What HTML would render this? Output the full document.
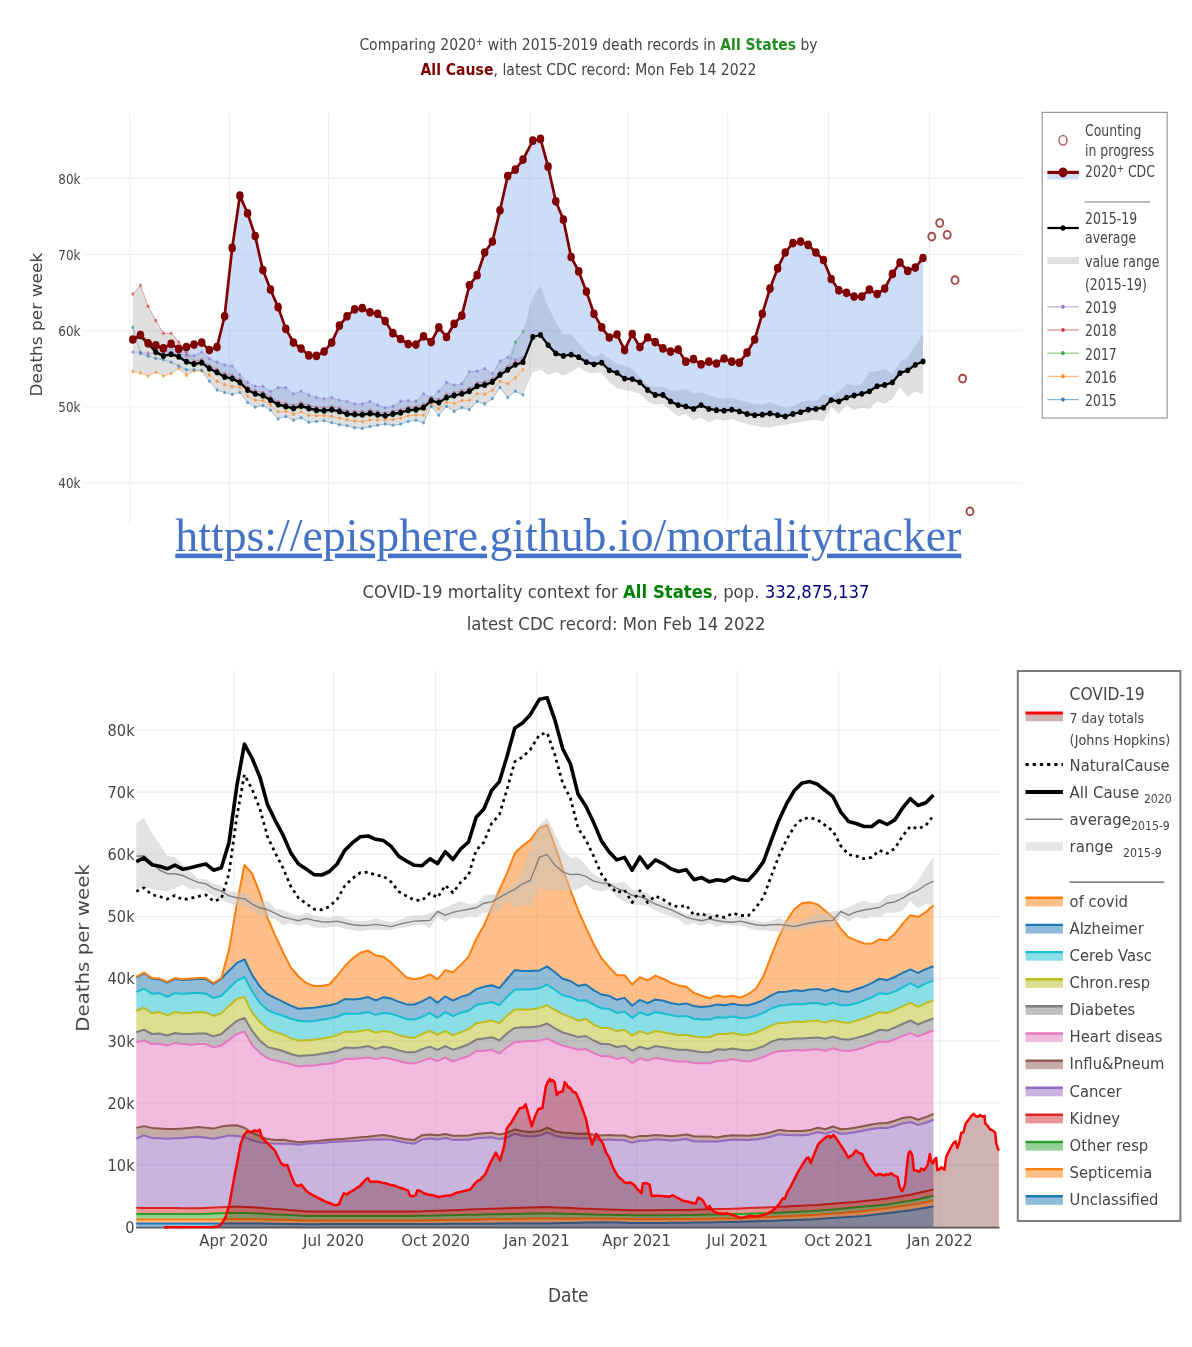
<!DOCTYPE html>
<html lang="en"><head><meta charset="utf-8"><title>Mortality tracker</title>
<style>html,body{margin:0;padding:0;background:#fff}body{width:1192px;height:1347px;overflow:hidden}</style>
</head><body>
<svg width="1192" height="1347" viewBox="0 0 1192 1347" style="display:block;font-family:'DejaVu Sans', 'Liberation Sans', sans-serif">
<rect width="1192" height="1347" fill="#fff"/>
<defs><filter id="b1" x="-2%" y="-2%" width="104%" height="104%"><feGaussianBlur stdDeviation="0.65"/></filter><filter id="b2" x="-2%" y="-2%" width="104%" height="104%"><feGaussianBlur stdDeviation="0.45"/></filter></defs>
<g filter="url(#b1)">
<g stroke="#eeeeee" stroke-width="1" fill="none">
<path d="M129.8 112.5 V525"/>
<path d="M229.4 112.5 V525"/>
<path d="M328.6 112.5 V525"/>
<path d="M429.3 112.5 V525"/>
<path d="M529.9 112.5 V525"/>
<path d="M628.2 112.5 V525"/>
<path d="M727.8 112.5 V525"/>
<path d="M828.4 112.5 V525"/>
<path d="M929.6 112.5 V525"/>
<path d="M84 482.9 H1022"/>
<path d="M84 406.8 H1022"/>
<path d="M84 330.7 H1022"/>
<path d="M84 254.6 H1022"/>
<path d="M84 178.5 H1022"/>
</g>
<path d="M132.8 294.1 L140.5 285.3 L148.1 306.2 L155.8 320.6 L163.4 333.2 L171.1 333.2 L178.7 342.1 L186.4 350.9 L194 354.7 L201.7 352.1 L209.3 358.5 L217 362.2 L224.6 364.8 L232.2 366 L239.9 374.9 L247.6 382.4 L255.2 386.2 L262.9 386.2 L270.5 391.3 L278.1 387.5 L285.8 387.5 L293.5 393.8 L301.1 391.3 L308.8 395 L316.4 397.6 L324.1 398.8 L331.7 397.6 L339.4 400.1 L347 401.4 L354.7 403.9 L362.3 403.9 L370 401.4 L377.6 405.1 L385.2 407.7 L392.9 406.4 L400.6 401.4 L408.2 400.6 L415.9 401.4 L423.5 393.8 L431.2 397.6 L438.8 391.3 L446.5 382.4 L454.1 385 L461.8 383.7 L469.4 371.8 L477.1 371.1 L484.7 368.5 L492.4 373.6 L500 361 L507.7 357.2 L515.3 342.1 L523 331.5 L532.8 296.6 L540.5 286 L548.1 306.7 L555.8 321.9 L563.4 334.5 L571.1 334 L578.7 343.3 L586.4 352.1 L594 357.2 L601.7 352.7 L609.3 358.5 L617 363.5 L624.6 366 L632.2 368.5 L639.9 377.4 L647.6 385 L655.2 387 L662.9 386.2 L670.5 390 L678.2 390.5 L685.8 388.7 L693.5 393.8 L701.1 392 L708.8 395 L716.4 397.6 L724.1 398.8 L731.7 397.6 L739.4 400.1 L747 402.1 L754.7 403.9 L762.3 404.4 L770 402.1 L777.6 405.1 L785.2 407.7 L792.9 406.4 L800.6 402.1 L808.2 400.6 L815.9 401.4 L823.5 393.8 L831.2 397.6 L838.8 391.3 L846.5 383.7 L854.1 385.5 L861.8 383.7 L869.4 372.3 L877.1 371.1 L884.7 369.3 L892.4 373.6 L900 361.7 L907.7 357.2 L915.3 345.8 L923 333.2 L923 394.5 L915.3 391.3 L907.7 397.1 L900 387.5 L892.4 398.8 L884.7 403.9 L877.1 401.4 L869.4 408.9 L861.8 407.7 L854.1 410.2 L846.5 405.1 L838.8 414 L831.2 406.4 L823.5 421.5 L815.9 419.8 L808.2 420.8 L800.6 422.3 L792.9 423.3 L785.2 424.8 L777.6 425.8 L770 427.3 L762.3 427.3 L754.7 425.3 L747 424.1 L739.4 421.5 L731.7 419 L724.1 420.8 L716.4 419 L708.8 422.3 L701.1 417.8 L693.5 420.3 L685.8 414 L678.2 416.5 L670.5 410.2 L662.9 403.9 L655.2 405.1 L647.6 401.4 L639.9 393.8 L632.2 391.3 L624.6 390 L617 388 L609.3 382.4 L601.7 372.3 L594 373.6 L586.4 372.3 L578.7 367.3 L571.1 372.3 L563.4 375.4 L555.8 372.3 L548.1 374.9 L540.5 369.8 L532.8 372.3 L523 395 L515.3 391.3 L507.7 397.6 L500 387.5 L492.4 398.8 L484.7 403.9 L477.1 401.4 L469.4 409.7 L461.8 407.7 L454.1 411.4 L446.5 406.4 L438.8 415.2 L431.2 406.4 L423.5 422.8 L415.9 420.3 L408.2 421.5 L400.6 424.1 L392.9 425.3 L385.2 424.1 L377.6 425.3 L370 426.6 L362.3 428.4 L354.7 427.8 L347 425.8 L339.4 424.8 L331.7 422.8 L324.1 420.8 L316.4 421.5 L308.8 422.3 L301.1 417.8 L293.5 420.3 L285.8 416.5 L278.1 419 L270.5 410.2 L262.9 405.6 L255.2 407.2 L247.6 402.6 L239.9 392.5 L232.2 394.5 L224.6 392.5 L217 390 L209.3 381.2 L201.7 371.1 L194 371.1 L186.4 375.4 L178.7 368.5 L171.1 373.6 L163.4 376.1 L155.8 372.3 L148.1 376.1 L140.5 373.1 L132.8 371.6 Z" fill="#000" fill-opacity="0.125" stroke="none"/>
<path d="M132.8 352.1 L140.5 352.1 L148.1 353.4 L155.8 353.4 L163.4 355.2 L171.1 354.7 L178.7 353.4 L186.4 355.9 L194 355.9 L201.7 352.1 L209.3 358.5 L217 362.2 L224.6 364.8 L232.2 366 L239.9 374.9 L247.6 382.4 L255.2 386.2 L262.9 386.2 L270.5 391.3 L278.1 387.5 L285.8 387.5 L293.5 393.8 L301.1 391.3 L308.8 395 L316.4 397.6 L324.1 398.8 L331.7 397.6 L339.4 400.1 L347 401.4 L354.7 403.9 L362.3 403.9 L370 401.4 L377.6 405.1 L385.2 407.7 L392.9 406.4 L400.6 401.4 L408.2 400.6 L415.9 401.4 L423.5 393.8 L431.2 397.6 L438.8 391.3 L446.5 382.4 L454.1 385 L461.8 383.7 L469.4 371.8 L477.1 371.1 L484.7 368.5 L492.4 373.6 L500 361 L507.7 357.2 L515.3 359.7 L523 357.2" fill="none" stroke="#9467bd" stroke-width="1" opacity="0.4"/>
<g fill="#9467bd" opacity="0.6"><ellipse cx="132.8" cy="352.1" rx="1.5" ry="1.8"/><ellipse cx="140.5" cy="352.1" rx="1.5" ry="1.8"/><ellipse cx="148.1" cy="353.4" rx="1.5" ry="1.8"/><ellipse cx="155.8" cy="353.4" rx="1.5" ry="1.8"/><ellipse cx="163.4" cy="355.2" rx="1.5" ry="1.8"/><ellipse cx="171.1" cy="354.7" rx="1.5" ry="1.8"/><ellipse cx="178.7" cy="353.4" rx="1.5" ry="1.8"/><ellipse cx="186.4" cy="355.9" rx="1.5" ry="1.8"/><ellipse cx="194" cy="355.9" rx="1.5" ry="1.8"/><ellipse cx="201.7" cy="352.1" rx="1.5" ry="1.8"/><ellipse cx="209.3" cy="358.5" rx="1.5" ry="1.8"/><ellipse cx="217" cy="362.2" rx="1.5" ry="1.8"/><ellipse cx="224.6" cy="364.8" rx="1.5" ry="1.8"/><ellipse cx="232.2" cy="366" rx="1.5" ry="1.8"/><ellipse cx="239.9" cy="374.9" rx="1.5" ry="1.8"/><ellipse cx="247.6" cy="382.4" rx="1.5" ry="1.8"/><ellipse cx="255.2" cy="386.2" rx="1.5" ry="1.8"/><ellipse cx="262.9" cy="386.2" rx="1.5" ry="1.8"/><ellipse cx="270.5" cy="391.3" rx="1.5" ry="1.8"/><ellipse cx="278.1" cy="387.5" rx="1.5" ry="1.8"/><ellipse cx="285.8" cy="387.5" rx="1.5" ry="1.8"/><ellipse cx="293.5" cy="393.8" rx="1.5" ry="1.8"/><ellipse cx="301.1" cy="391.3" rx="1.5" ry="1.8"/><ellipse cx="308.8" cy="395" rx="1.5" ry="1.8"/><ellipse cx="316.4" cy="397.6" rx="1.5" ry="1.8"/><ellipse cx="324.1" cy="398.8" rx="1.5" ry="1.8"/><ellipse cx="331.7" cy="397.6" rx="1.5" ry="1.8"/><ellipse cx="339.4" cy="400.1" rx="1.5" ry="1.8"/><ellipse cx="347" cy="401.4" rx="1.5" ry="1.8"/><ellipse cx="354.7" cy="403.9" rx="1.5" ry="1.8"/><ellipse cx="362.3" cy="403.9" rx="1.5" ry="1.8"/><ellipse cx="370" cy="401.4" rx="1.5" ry="1.8"/><ellipse cx="377.6" cy="405.1" rx="1.5" ry="1.8"/><ellipse cx="385.2" cy="407.7" rx="1.5" ry="1.8"/><ellipse cx="392.9" cy="406.4" rx="1.5" ry="1.8"/><ellipse cx="400.6" cy="401.4" rx="1.5" ry="1.8"/><ellipse cx="408.2" cy="400.6" rx="1.5" ry="1.8"/><ellipse cx="415.9" cy="401.4" rx="1.5" ry="1.8"/><ellipse cx="423.5" cy="393.8" rx="1.5" ry="1.8"/><ellipse cx="431.2" cy="397.6" rx="1.5" ry="1.8"/><ellipse cx="438.8" cy="391.3" rx="1.5" ry="1.8"/><ellipse cx="446.5" cy="382.4" rx="1.5" ry="1.8"/><ellipse cx="454.1" cy="385" rx="1.5" ry="1.8"/><ellipse cx="461.8" cy="383.7" rx="1.5" ry="1.8"/><ellipse cx="469.4" cy="371.8" rx="1.5" ry="1.8"/><ellipse cx="477.1" cy="371.1" rx="1.5" ry="1.8"/><ellipse cx="484.7" cy="368.5" rx="1.5" ry="1.8"/><ellipse cx="492.4" cy="373.6" rx="1.5" ry="1.8"/><ellipse cx="500" cy="361" rx="1.5" ry="1.8"/><ellipse cx="507.7" cy="357.2" rx="1.5" ry="1.8"/><ellipse cx="515.3" cy="359.7" rx="1.5" ry="1.8"/><ellipse cx="523" cy="357.2" rx="1.5" ry="1.8"/></g>
<path d="M132.8 294.1 L140.5 285.3 L148.1 306.2 L155.8 320.6 L163.4 333.2 L171.1 333.2 L178.7 342.1 L186.4 353.4 L194 361 L201.7 359.7 L209.3 365.5 L217 369.3 L224.6 373.8 L232.2 375.6 L239.9 379.4 L247.6 387 L255.2 390.8 L262.9 392.5 L270.5 397.1 L278.1 401.6 L285.8 403.4 L293.5 405.4 L301.1 402.9 L308.8 405.4 L316.4 407.2 L324.1 407.7 L331.7 406.7 L339.4 408.4 L347 410.9 L354.7 411.4 L362.3 411.7 L370 410.4 L377.6 411.7 L385.2 412.7 L392.9 410.9 L400.6 409.7 L408.2 407.2 L415.9 406.7 L423.5 404.6 L431.2 397.6 L438.8 399.6 L446.5 394.5 L454.1 392.5 L461.8 390.8 L469.4 388.2 L477.1 383.2 L484.7 381.9 L492.4 378.9 L500 371.8 L507.7 366.8 L515.3 361.7 L523 359.2" fill="none" stroke="#d62728" stroke-width="1" opacity="0.4"/>
<g fill="#d62728" opacity="0.6"><ellipse cx="132.8" cy="294.1" rx="1.5" ry="1.8"/><ellipse cx="140.5" cy="285.3" rx="1.5" ry="1.8"/><ellipse cx="148.1" cy="306.2" rx="1.5" ry="1.8"/><ellipse cx="155.8" cy="320.6" rx="1.5" ry="1.8"/><ellipse cx="163.4" cy="333.2" rx="1.5" ry="1.8"/><ellipse cx="171.1" cy="333.2" rx="1.5" ry="1.8"/><ellipse cx="178.7" cy="342.1" rx="1.5" ry="1.8"/><ellipse cx="186.4" cy="353.4" rx="1.5" ry="1.8"/><ellipse cx="194" cy="361" rx="1.5" ry="1.8"/><ellipse cx="201.7" cy="359.7" rx="1.5" ry="1.8"/><ellipse cx="209.3" cy="365.5" rx="1.5" ry="1.8"/><ellipse cx="217" cy="369.3" rx="1.5" ry="1.8"/><ellipse cx="224.6" cy="373.8" rx="1.5" ry="1.8"/><ellipse cx="232.2" cy="375.6" rx="1.5" ry="1.8"/><ellipse cx="239.9" cy="379.4" rx="1.5" ry="1.8"/><ellipse cx="247.6" cy="387" rx="1.5" ry="1.8"/><ellipse cx="255.2" cy="390.8" rx="1.5" ry="1.8"/><ellipse cx="262.9" cy="392.5" rx="1.5" ry="1.8"/><ellipse cx="270.5" cy="397.1" rx="1.5" ry="1.8"/><ellipse cx="278.1" cy="401.6" rx="1.5" ry="1.8"/><ellipse cx="285.8" cy="403.4" rx="1.5" ry="1.8"/><ellipse cx="293.5" cy="405.4" rx="1.5" ry="1.8"/><ellipse cx="301.1" cy="402.9" rx="1.5" ry="1.8"/><ellipse cx="308.8" cy="405.4" rx="1.5" ry="1.8"/><ellipse cx="316.4" cy="407.2" rx="1.5" ry="1.8"/><ellipse cx="324.1" cy="407.7" rx="1.5" ry="1.8"/><ellipse cx="331.7" cy="406.7" rx="1.5" ry="1.8"/><ellipse cx="339.4" cy="408.4" rx="1.5" ry="1.8"/><ellipse cx="347" cy="410.9" rx="1.5" ry="1.8"/><ellipse cx="354.7" cy="411.4" rx="1.5" ry="1.8"/><ellipse cx="362.3" cy="411.7" rx="1.5" ry="1.8"/><ellipse cx="370" cy="410.4" rx="1.5" ry="1.8"/><ellipse cx="377.6" cy="411.7" rx="1.5" ry="1.8"/><ellipse cx="385.2" cy="412.7" rx="1.5" ry="1.8"/><ellipse cx="392.9" cy="410.9" rx="1.5" ry="1.8"/><ellipse cx="400.6" cy="409.7" rx="1.5" ry="1.8"/><ellipse cx="408.2" cy="407.2" rx="1.5" ry="1.8"/><ellipse cx="415.9" cy="406.7" rx="1.5" ry="1.8"/><ellipse cx="423.5" cy="404.6" rx="1.5" ry="1.8"/><ellipse cx="431.2" cy="397.6" rx="1.5" ry="1.8"/><ellipse cx="438.8" cy="399.6" rx="1.5" ry="1.8"/><ellipse cx="446.5" cy="394.5" rx="1.5" ry="1.8"/><ellipse cx="454.1" cy="392.5" rx="1.5" ry="1.8"/><ellipse cx="461.8" cy="390.8" rx="1.5" ry="1.8"/><ellipse cx="469.4" cy="388.2" rx="1.5" ry="1.8"/><ellipse cx="477.1" cy="383.2" rx="1.5" ry="1.8"/><ellipse cx="484.7" cy="381.9" rx="1.5" ry="1.8"/><ellipse cx="492.4" cy="378.9" rx="1.5" ry="1.8"/><ellipse cx="500" cy="371.8" rx="1.5" ry="1.8"/><ellipse cx="507.7" cy="366.8" rx="1.5" ry="1.8"/><ellipse cx="515.3" cy="361.7" rx="1.5" ry="1.8"/><ellipse cx="523" cy="359.2" rx="1.5" ry="1.8"/></g>
<path d="M132.8 340.5 L140.5 337.8 L148.1 345.1 L155.8 353.7 L163.4 357.4 L171.1 355.7 L178.7 358.2 L186.4 363.3 L194 365.5 L201.7 364.3 L209.3 370.1 L217 373.8 L224.6 378.4 L232.2 380.2 L239.9 383.9 L247.6 391.5 L255.2 395.3 L262.9 397.1 L270.5 401.6 L278.1 406.1 L285.8 407.9 L293.5 409.9 L301.1 407.4 L308.8 409.9 L316.4 411.7 L324.1 412.2 L331.7 411.2 L339.4 413 L347 415.5 L354.7 416 L362.3 416.2 L370 415 L377.6 416.2 L385.2 417.2 L392.9 415.5 L400.6 414.2 L408.2 411.7 L415.9 411.2 L423.5 409.2 L431.2 402.1 L438.8 404.1 L446.5 399.1 L454.1 397.1 L461.8 395.3 L469.4 392.8 L477.1 387.7 L484.7 386.5 L492.4 383.4 L500 376.4 L507.7 371.3 L515.3 342.1 L523 331.5" fill="none" stroke="#2ca02c" stroke-width="1" opacity="0.4"/>
<g fill="#2ca02c" opacity="0.6"><ellipse cx="132.8" cy="340.5" rx="1.5" ry="1.8"/><ellipse cx="140.5" cy="337.8" rx="1.5" ry="1.8"/><ellipse cx="148.1" cy="345.1" rx="1.5" ry="1.8"/><ellipse cx="155.8" cy="353.7" rx="1.5" ry="1.8"/><ellipse cx="163.4" cy="357.4" rx="1.5" ry="1.8"/><ellipse cx="171.1" cy="355.7" rx="1.5" ry="1.8"/><ellipse cx="178.7" cy="358.2" rx="1.5" ry="1.8"/><ellipse cx="186.4" cy="363.3" rx="1.5" ry="1.8"/><ellipse cx="194" cy="365.5" rx="1.5" ry="1.8"/><ellipse cx="201.7" cy="364.3" rx="1.5" ry="1.8"/><ellipse cx="209.3" cy="370.1" rx="1.5" ry="1.8"/><ellipse cx="217" cy="373.8" rx="1.5" ry="1.8"/><ellipse cx="224.6" cy="378.4" rx="1.5" ry="1.8"/><ellipse cx="232.2" cy="380.2" rx="1.5" ry="1.8"/><ellipse cx="239.9" cy="383.9" rx="1.5" ry="1.8"/><ellipse cx="247.6" cy="391.5" rx="1.5" ry="1.8"/><ellipse cx="255.2" cy="395.3" rx="1.5" ry="1.8"/><ellipse cx="262.9" cy="397.1" rx="1.5" ry="1.8"/><ellipse cx="270.5" cy="401.6" rx="1.5" ry="1.8"/><ellipse cx="278.1" cy="406.1" rx="1.5" ry="1.8"/><ellipse cx="285.8" cy="407.9" rx="1.5" ry="1.8"/><ellipse cx="293.5" cy="409.9" rx="1.5" ry="1.8"/><ellipse cx="301.1" cy="407.4" rx="1.5" ry="1.8"/><ellipse cx="308.8" cy="409.9" rx="1.5" ry="1.8"/><ellipse cx="316.4" cy="411.7" rx="1.5" ry="1.8"/><ellipse cx="324.1" cy="412.2" rx="1.5" ry="1.8"/><ellipse cx="331.7" cy="411.2" rx="1.5" ry="1.8"/><ellipse cx="339.4" cy="413" rx="1.5" ry="1.8"/><ellipse cx="347" cy="415.5" rx="1.5" ry="1.8"/><ellipse cx="354.7" cy="416" rx="1.5" ry="1.8"/><ellipse cx="362.3" cy="416.2" rx="1.5" ry="1.8"/><ellipse cx="370" cy="415" rx="1.5" ry="1.8"/><ellipse cx="377.6" cy="416.2" rx="1.5" ry="1.8"/><ellipse cx="385.2" cy="417.2" rx="1.5" ry="1.8"/><ellipse cx="392.9" cy="415.5" rx="1.5" ry="1.8"/><ellipse cx="400.6" cy="414.2" rx="1.5" ry="1.8"/><ellipse cx="408.2" cy="411.7" rx="1.5" ry="1.8"/><ellipse cx="415.9" cy="411.2" rx="1.5" ry="1.8"/><ellipse cx="423.5" cy="409.2" rx="1.5" ry="1.8"/><ellipse cx="431.2" cy="402.1" rx="1.5" ry="1.8"/><ellipse cx="438.8" cy="404.1" rx="1.5" ry="1.8"/><ellipse cx="446.5" cy="399.1" rx="1.5" ry="1.8"/><ellipse cx="454.1" cy="397.1" rx="1.5" ry="1.8"/><ellipse cx="461.8" cy="395.3" rx="1.5" ry="1.8"/><ellipse cx="469.4" cy="392.8" rx="1.5" ry="1.8"/><ellipse cx="477.1" cy="387.7" rx="1.5" ry="1.8"/><ellipse cx="484.7" cy="386.5" rx="1.5" ry="1.8"/><ellipse cx="492.4" cy="383.4" rx="1.5" ry="1.8"/><ellipse cx="500" cy="376.4" rx="1.5" ry="1.8"/><ellipse cx="507.7" cy="371.3" rx="1.5" ry="1.8"/><ellipse cx="515.3" cy="342.1" rx="1.5" ry="1.8"/><ellipse cx="523" cy="331.5" rx="1.5" ry="1.8"/></g>
<path d="M132.8 371.6 L140.5 373.1 L148.1 376.1 L155.8 372.3 L163.4 376.1 L171.1 373.6 L178.7 368.5 L186.4 375.4 L194 371.1 L201.7 371.1 L209.3 374.9 L217 381.2 L224.6 384.7 L232.2 386.5 L239.9 387.5 L247.6 396.3 L255.2 400.3 L262.9 400.6 L270.5 405.1 L278.1 411.7 L285.8 411.4 L293.5 414.2 L301.1 411.7 L308.8 415.2 L316.4 415.7 L324.1 415.7 L331.7 416.2 L339.4 418 L347 419.8 L354.7 421 L362.3 421.5 L370 420 L377.6 420 L385.2 419.8 L392.9 419.5 L400.6 418.3 L408.2 415.7 L415.9 415 L423.5 415.2 L431.2 403.4 L438.8 408.9 L446.5 401.9 L454.1 403.4 L461.8 400.6 L469.4 400.3 L477.1 393.8 L484.7 394.3 L492.4 390.2 L500 381.2 L507.7 383.7 L515.3 377.9 L523 369.8" fill="none" stroke="#ff7f0e" stroke-width="1" opacity="0.4"/>
<g fill="#ff7f0e" opacity="0.6"><ellipse cx="132.8" cy="371.6" rx="1.5" ry="1.8"/><ellipse cx="140.5" cy="373.1" rx="1.5" ry="1.8"/><ellipse cx="148.1" cy="376.1" rx="1.5" ry="1.8"/><ellipse cx="155.8" cy="372.3" rx="1.5" ry="1.8"/><ellipse cx="163.4" cy="376.1" rx="1.5" ry="1.8"/><ellipse cx="171.1" cy="373.6" rx="1.5" ry="1.8"/><ellipse cx="178.7" cy="368.5" rx="1.5" ry="1.8"/><ellipse cx="186.4" cy="375.4" rx="1.5" ry="1.8"/><ellipse cx="194" cy="371.1" rx="1.5" ry="1.8"/><ellipse cx="201.7" cy="371.1" rx="1.5" ry="1.8"/><ellipse cx="209.3" cy="374.9" rx="1.5" ry="1.8"/><ellipse cx="217" cy="381.2" rx="1.5" ry="1.8"/><ellipse cx="224.6" cy="384.7" rx="1.5" ry="1.8"/><ellipse cx="232.2" cy="386.5" rx="1.5" ry="1.8"/><ellipse cx="239.9" cy="387.5" rx="1.5" ry="1.8"/><ellipse cx="247.6" cy="396.3" rx="1.5" ry="1.8"/><ellipse cx="255.2" cy="400.3" rx="1.5" ry="1.8"/><ellipse cx="262.9" cy="400.6" rx="1.5" ry="1.8"/><ellipse cx="270.5" cy="405.1" rx="1.5" ry="1.8"/><ellipse cx="278.1" cy="411.7" rx="1.5" ry="1.8"/><ellipse cx="285.8" cy="411.4" rx="1.5" ry="1.8"/><ellipse cx="293.5" cy="414.2" rx="1.5" ry="1.8"/><ellipse cx="301.1" cy="411.7" rx="1.5" ry="1.8"/><ellipse cx="308.8" cy="415.2" rx="1.5" ry="1.8"/><ellipse cx="316.4" cy="415.7" rx="1.5" ry="1.8"/><ellipse cx="324.1" cy="415.7" rx="1.5" ry="1.8"/><ellipse cx="331.7" cy="416.2" rx="1.5" ry="1.8"/><ellipse cx="339.4" cy="418" rx="1.5" ry="1.8"/><ellipse cx="347" cy="419.8" rx="1.5" ry="1.8"/><ellipse cx="354.7" cy="421" rx="1.5" ry="1.8"/><ellipse cx="362.3" cy="421.5" rx="1.5" ry="1.8"/><ellipse cx="370" cy="420" rx="1.5" ry="1.8"/><ellipse cx="377.6" cy="420" rx="1.5" ry="1.8"/><ellipse cx="385.2" cy="419.8" rx="1.5" ry="1.8"/><ellipse cx="392.9" cy="419.5" rx="1.5" ry="1.8"/><ellipse cx="400.6" cy="418.3" rx="1.5" ry="1.8"/><ellipse cx="408.2" cy="415.7" rx="1.5" ry="1.8"/><ellipse cx="415.9" cy="415" rx="1.5" ry="1.8"/><ellipse cx="423.5" cy="415.2" rx="1.5" ry="1.8"/><ellipse cx="431.2" cy="403.4" rx="1.5" ry="1.8"/><ellipse cx="438.8" cy="408.9" rx="1.5" ry="1.8"/><ellipse cx="446.5" cy="401.9" rx="1.5" ry="1.8"/><ellipse cx="454.1" cy="403.4" rx="1.5" ry="1.8"/><ellipse cx="461.8" cy="400.6" rx="1.5" ry="1.8"/><ellipse cx="469.4" cy="400.3" rx="1.5" ry="1.8"/><ellipse cx="477.1" cy="393.8" rx="1.5" ry="1.8"/><ellipse cx="484.7" cy="394.3" rx="1.5" ry="1.8"/><ellipse cx="492.4" cy="390.2" rx="1.5" ry="1.8"/><ellipse cx="500" cy="381.2" rx="1.5" ry="1.8"/><ellipse cx="507.7" cy="383.7" rx="1.5" ry="1.8"/><ellipse cx="515.3" cy="377.9" rx="1.5" ry="1.8"/><ellipse cx="523" cy="369.8" rx="1.5" ry="1.8"/></g>
<path d="M132.8 327.4 L140.5 353.4 L148.1 355.9 L155.8 358.5 L163.4 359.7 L171.1 362.2 L178.7 366 L186.4 369.8 L194 369.8 L201.7 370.3 L209.3 381.2 L217 390 L224.6 392.5 L232.2 394.5 L239.9 392.5 L247.6 402.6 L255.2 407.2 L262.9 405.6 L270.5 410.2 L278.1 419 L285.8 416.5 L293.5 420.3 L301.1 417.8 L308.8 422.3 L316.4 421.5 L324.1 420.8 L331.7 422.8 L339.4 424.8 L347 425.8 L354.7 427.8 L362.3 428.4 L370 426.6 L377.6 425.3 L385.2 424.1 L392.9 425.3 L400.6 424.1 L408.2 421.5 L415.9 420.3 L423.5 422.8 L431.2 406.4 L438.8 415.2 L446.5 406.4 L454.1 411.4 L461.8 407.7 L469.4 409.7 L477.1 401.4 L484.7 403.9 L492.4 398.8 L500 387.5 L507.7 397.6 L515.3 391.3 L523 395" fill="none" stroke="#1f77b4" stroke-width="1" opacity="0.4"/>
<g fill="#1f77b4" opacity="0.6"><ellipse cx="132.8" cy="327.4" rx="1.5" ry="1.8"/><ellipse cx="140.5" cy="353.4" rx="1.5" ry="1.8"/><ellipse cx="148.1" cy="355.9" rx="1.5" ry="1.8"/><ellipse cx="155.8" cy="358.5" rx="1.5" ry="1.8"/><ellipse cx="163.4" cy="359.7" rx="1.5" ry="1.8"/><ellipse cx="171.1" cy="362.2" rx="1.5" ry="1.8"/><ellipse cx="178.7" cy="366" rx="1.5" ry="1.8"/><ellipse cx="186.4" cy="369.8" rx="1.5" ry="1.8"/><ellipse cx="194" cy="369.8" rx="1.5" ry="1.8"/><ellipse cx="201.7" cy="370.3" rx="1.5" ry="1.8"/><ellipse cx="209.3" cy="381.2" rx="1.5" ry="1.8"/><ellipse cx="217" cy="390" rx="1.5" ry="1.8"/><ellipse cx="224.6" cy="392.5" rx="1.5" ry="1.8"/><ellipse cx="232.2" cy="394.5" rx="1.5" ry="1.8"/><ellipse cx="239.9" cy="392.5" rx="1.5" ry="1.8"/><ellipse cx="247.6" cy="402.6" rx="1.5" ry="1.8"/><ellipse cx="255.2" cy="407.2" rx="1.5" ry="1.8"/><ellipse cx="262.9" cy="405.6" rx="1.5" ry="1.8"/><ellipse cx="270.5" cy="410.2" rx="1.5" ry="1.8"/><ellipse cx="278.1" cy="419" rx="1.5" ry="1.8"/><ellipse cx="285.8" cy="416.5" rx="1.5" ry="1.8"/><ellipse cx="293.5" cy="420.3" rx="1.5" ry="1.8"/><ellipse cx="301.1" cy="417.8" rx="1.5" ry="1.8"/><ellipse cx="308.8" cy="422.3" rx="1.5" ry="1.8"/><ellipse cx="316.4" cy="421.5" rx="1.5" ry="1.8"/><ellipse cx="324.1" cy="420.8" rx="1.5" ry="1.8"/><ellipse cx="331.7" cy="422.8" rx="1.5" ry="1.8"/><ellipse cx="339.4" cy="424.8" rx="1.5" ry="1.8"/><ellipse cx="347" cy="425.8" rx="1.5" ry="1.8"/><ellipse cx="354.7" cy="427.8" rx="1.5" ry="1.8"/><ellipse cx="362.3" cy="428.4" rx="1.5" ry="1.8"/><ellipse cx="370" cy="426.6" rx="1.5" ry="1.8"/><ellipse cx="377.6" cy="425.3" rx="1.5" ry="1.8"/><ellipse cx="385.2" cy="424.1" rx="1.5" ry="1.8"/><ellipse cx="392.9" cy="425.3" rx="1.5" ry="1.8"/><ellipse cx="400.6" cy="424.1" rx="1.5" ry="1.8"/><ellipse cx="408.2" cy="421.5" rx="1.5" ry="1.8"/><ellipse cx="415.9" cy="420.3" rx="1.5" ry="1.8"/><ellipse cx="423.5" cy="422.8" rx="1.5" ry="1.8"/><ellipse cx="431.2" cy="406.4" rx="1.5" ry="1.8"/><ellipse cx="438.8" cy="415.2" rx="1.5" ry="1.8"/><ellipse cx="446.5" cy="406.4" rx="1.5" ry="1.8"/><ellipse cx="454.1" cy="411.4" rx="1.5" ry="1.8"/><ellipse cx="461.8" cy="407.7" rx="1.5" ry="1.8"/><ellipse cx="469.4" cy="409.7" rx="1.5" ry="1.8"/><ellipse cx="477.1" cy="401.4" rx="1.5" ry="1.8"/><ellipse cx="484.7" cy="403.9" rx="1.5" ry="1.8"/><ellipse cx="492.4" cy="398.8" rx="1.5" ry="1.8"/><ellipse cx="500" cy="387.5" rx="1.5" ry="1.8"/><ellipse cx="507.7" cy="397.6" rx="1.5" ry="1.8"/><ellipse cx="515.3" cy="391.3" rx="1.5" ry="1.8"/><ellipse cx="523" cy="395" rx="1.5" ry="1.8"/></g>
<path d="M132.8 339.5 L140.5 335 L148.1 343.3 L155.8 345.3 L163.4 348.4 L171.1 343.8 L178.7 348.9 L186.4 347.1 L194 344.6 L201.7 342.6 L209.3 350.1 L217 347.1 L224.6 316.3 L232.2 247.9 L239.9 195.7 L247.6 213.4 L255.2 236.1 L262.9 270.1 L270.5 289.6 L278.1 307.2 L285.8 328.9 L293.5 342.6 L301.1 348.6 L308.8 355.4 L316.4 355.9 L324.1 351.6 L331.7 342.6 L339.4 325.7 L347 316.3 L354.7 309.3 L362.3 308.2 L370 312.3 L377.6 313.8 L385.2 321.1 L392.9 333.2 L400.6 339 L408.2 344.1 L415.9 344.6 L423.5 336.3 L431.2 342.1 L438.8 327.4 L446.5 337 L454.1 323.9 L461.8 315.6 L469.4 285.3 L477.1 275.2 L484.7 252.5 L492.4 241.6 L500 210.3 L507.7 176 L515.3 169.7 L523 159.6 L532.8 140.7 L540.5 138.9 L548.1 166.7 L555.8 201.3 L563.4 219.7 L571.1 257 L578.7 271.4 L586.4 291.6 L594 313.8 L601.7 327.4 L609.3 337.5 L617 334.5 L624.6 350.1 L632.2 334 L639.9 347.1 L647.6 337.5 L655.2 342.1 L662.9 348.4 L670.5 351.6 L678.2 349.6 L685.8 361.7 L693.5 359.2 L701.1 364.3 L708.8 361.7 L716.4 363.5 L724.1 358.5 L731.7 361.7 L739.4 362.7 L747 352.7 L754.7 339.5 L762.3 313.8 L770 288.6 L777.6 268.4 L785.2 252.5 L792.9 243.1 L800.6 241.6 L808.2 244.9 L815.9 252.5 L823.5 260 L831.2 279 L838.8 290.3 L846.5 292.8 L854.1 296.6 L861.8 296.6 L869.4 289.6 L877.1 294.1 L884.7 288.6 L892.4 273.9 L900 262.6 L907.7 270.9 L915.3 267.6 L923 258 L923 361.5 L915.3 364.8 L907.7 370.3 L900 373.1 L892.4 382.4 L884.7 385 L877.1 386.2 L869.4 391.3 L861.8 393.8 L854.1 395.5 L846.5 397.6 L838.8 401.4 L831.2 400.1 L823.5 407.7 L815.9 408.9 L808.2 409.7 L800.6 412.2 L792.9 414 L785.2 416.5 L777.6 415.2 L770 413.5 L762.3 414.7 L754.7 415.2 L747 414 L739.4 411.4 L731.7 409.7 L724.1 410.7 L716.4 410.2 L708.8 408.9 L701.1 405.1 L693.5 408.9 L685.8 406.4 L678.2 405.1 L670.5 401.4 L662.9 395 L655.2 395 L647.6 390 L639.9 382.4 L632.2 379.1 L624.6 378.6 L617 372.8 L609.3 370.3 L601.7 362.7 L594 364.3 L586.4 362.2 L578.7 357.2 L571.1 354.7 L563.4 355.9 L555.8 353.4 L548.1 345.1 L540.5 335 L532.8 337 L523 362.2 L515.3 364.8 L507.7 369.8 L500 374.9 L492.4 381.9 L484.7 385 L477.1 386.2 L469.4 391.3 L461.8 393.8 L454.1 395.5 L446.5 397.6 L438.8 402.6 L431.2 400.6 L423.5 407.7 L415.9 409.7 L408.2 410.2 L400.6 412.7 L392.9 414 L385.2 415.7 L377.6 414.7 L370 413.5 L362.3 414.7 L354.7 414.5 L347 414 L339.4 411.4 L331.7 409.7 L324.1 410.7 L316.4 410.2 L308.8 408.4 L301.1 405.9 L293.5 408.4 L285.8 406.4 L278.1 404.6 L270.5 400.1 L262.9 395.5 L255.2 393.8 L247.6 390 L239.9 382.4 L232.2 378.6 L224.6 376.9 L217 372.3 L209.3 368.5 L201.7 362.7 L194 364 L186.4 361.7 L178.7 356.7 L171.1 354.2 L163.4 355.9 L155.8 352.1 L148.1 343.6 L140.5 336.3 L132.8 339 Z" fill="#6495ed" fill-opacity="0.32" stroke="none"/>
<path d="M132.8 339 L140.5 336.3 L148.1 343.6 L155.8 352.1 L163.4 355.9 L171.1 354.2 L178.7 356.7 L186.4 361.7 L194 364 L201.7 362.7 L209.3 368.5 L217 372.3 L224.6 376.9 L232.2 378.6 L239.9 382.4 L247.6 390 L255.2 393.8 L262.9 395.5 L270.5 400.1 L278.1 404.6 L285.8 406.4 L293.5 408.4 L301.1 405.9 L308.8 408.4 L316.4 410.2 L324.1 410.7 L331.7 409.7 L339.4 411.4 L347 414 L354.7 414.5 L362.3 414.7 L370 413.5 L377.6 414.7 L385.2 415.7 L392.9 414 L400.6 412.7 L408.2 410.2 L415.9 409.7 L423.5 407.7 L431.2 400.6 L438.8 402.6 L446.5 397.6 L454.1 395.5 L461.8 393.8 L469.4 391.3 L477.1 386.2 L484.7 385 L492.4 381.9 L500 374.9 L507.7 369.8 L515.3 364.8 L523 362.2 L532.8 337 L540.5 335 L548.1 345.1 L555.8 353.4 L563.4 355.9 L571.1 354.7 L578.7 357.2 L586.4 362.2 L594 364.3 L601.7 362.7 L609.3 370.3 L617 372.8 L624.6 378.6 L632.2 379.1 L639.9 382.4 L647.6 390 L655.2 395 L662.9 395 L670.5 401.4 L678.2 405.1 L685.8 406.4 L693.5 408.9 L701.1 405.1 L708.8 408.9 L716.4 410.2 L724.1 410.7 L731.7 409.7 L739.4 411.4 L747 414 L754.7 415.2 L762.3 414.7 L770 413.5 L777.6 415.2 L785.2 416.5 L792.9 414 L800.6 412.2 L808.2 409.7 L815.9 408.9 L823.5 407.7 L831.2 400.1 L838.8 401.4 L846.5 397.6 L854.1 395.5 L861.8 393.8 L869.4 391.3 L877.1 386.2 L884.7 385 L892.4 382.4 L900 373.1 L907.7 370.3 L915.3 364.8 L923 361.5" fill="none" stroke="#000" stroke-width="2.3" stroke-linejoin="round"/>
<g fill="#000"><ellipse cx="132.8" cy="339" rx="2.5" ry="2.9"/><ellipse cx="140.5" cy="336.3" rx="2.5" ry="2.9"/><ellipse cx="148.1" cy="343.6" rx="2.5" ry="2.9"/><ellipse cx="155.8" cy="352.1" rx="2.5" ry="2.9"/><ellipse cx="163.4" cy="355.9" rx="2.5" ry="2.9"/><ellipse cx="171.1" cy="354.2" rx="2.5" ry="2.9"/><ellipse cx="178.7" cy="356.7" rx="2.5" ry="2.9"/><ellipse cx="186.4" cy="361.7" rx="2.5" ry="2.9"/><ellipse cx="194" cy="364" rx="2.5" ry="2.9"/><ellipse cx="201.7" cy="362.7" rx="2.5" ry="2.9"/><ellipse cx="209.3" cy="368.5" rx="2.5" ry="2.9"/><ellipse cx="217" cy="372.3" rx="2.5" ry="2.9"/><ellipse cx="224.6" cy="376.9" rx="2.5" ry="2.9"/><ellipse cx="232.2" cy="378.6" rx="2.5" ry="2.9"/><ellipse cx="239.9" cy="382.4" rx="2.5" ry="2.9"/><ellipse cx="247.6" cy="390" rx="2.5" ry="2.9"/><ellipse cx="255.2" cy="393.8" rx="2.5" ry="2.9"/><ellipse cx="262.9" cy="395.5" rx="2.5" ry="2.9"/><ellipse cx="270.5" cy="400.1" rx="2.5" ry="2.9"/><ellipse cx="278.1" cy="404.6" rx="2.5" ry="2.9"/><ellipse cx="285.8" cy="406.4" rx="2.5" ry="2.9"/><ellipse cx="293.5" cy="408.4" rx="2.5" ry="2.9"/><ellipse cx="301.1" cy="405.9" rx="2.5" ry="2.9"/><ellipse cx="308.8" cy="408.4" rx="2.5" ry="2.9"/><ellipse cx="316.4" cy="410.2" rx="2.5" ry="2.9"/><ellipse cx="324.1" cy="410.7" rx="2.5" ry="2.9"/><ellipse cx="331.7" cy="409.7" rx="2.5" ry="2.9"/><ellipse cx="339.4" cy="411.4" rx="2.5" ry="2.9"/><ellipse cx="347" cy="414" rx="2.5" ry="2.9"/><ellipse cx="354.7" cy="414.5" rx="2.5" ry="2.9"/><ellipse cx="362.3" cy="414.7" rx="2.5" ry="2.9"/><ellipse cx="370" cy="413.5" rx="2.5" ry="2.9"/><ellipse cx="377.6" cy="414.7" rx="2.5" ry="2.9"/><ellipse cx="385.2" cy="415.7" rx="2.5" ry="2.9"/><ellipse cx="392.9" cy="414" rx="2.5" ry="2.9"/><ellipse cx="400.6" cy="412.7" rx="2.5" ry="2.9"/><ellipse cx="408.2" cy="410.2" rx="2.5" ry="2.9"/><ellipse cx="415.9" cy="409.7" rx="2.5" ry="2.9"/><ellipse cx="423.5" cy="407.7" rx="2.5" ry="2.9"/><ellipse cx="431.2" cy="400.6" rx="2.5" ry="2.9"/><ellipse cx="438.8" cy="402.6" rx="2.5" ry="2.9"/><ellipse cx="446.5" cy="397.6" rx="2.5" ry="2.9"/><ellipse cx="454.1" cy="395.5" rx="2.5" ry="2.9"/><ellipse cx="461.8" cy="393.8" rx="2.5" ry="2.9"/><ellipse cx="469.4" cy="391.3" rx="2.5" ry="2.9"/><ellipse cx="477.1" cy="386.2" rx="2.5" ry="2.9"/><ellipse cx="484.7" cy="385" rx="2.5" ry="2.9"/><ellipse cx="492.4" cy="381.9" rx="2.5" ry="2.9"/><ellipse cx="500" cy="374.9" rx="2.5" ry="2.9"/><ellipse cx="507.7" cy="369.8" rx="2.5" ry="2.9"/><ellipse cx="515.3" cy="364.8" rx="2.5" ry="2.9"/><ellipse cx="523" cy="362.2" rx="2.5" ry="2.9"/><ellipse cx="532.8" cy="337" rx="2.5" ry="2.9"/><ellipse cx="540.5" cy="335" rx="2.5" ry="2.9"/><ellipse cx="548.1" cy="345.1" rx="2.5" ry="2.9"/><ellipse cx="555.8" cy="353.4" rx="2.5" ry="2.9"/><ellipse cx="563.4" cy="355.9" rx="2.5" ry="2.9"/><ellipse cx="571.1" cy="354.7" rx="2.5" ry="2.9"/><ellipse cx="578.7" cy="357.2" rx="2.5" ry="2.9"/><ellipse cx="586.4" cy="362.2" rx="2.5" ry="2.9"/><ellipse cx="594" cy="364.3" rx="2.5" ry="2.9"/><ellipse cx="601.7" cy="362.7" rx="2.5" ry="2.9"/><ellipse cx="609.3" cy="370.3" rx="2.5" ry="2.9"/><ellipse cx="617" cy="372.8" rx="2.5" ry="2.9"/><ellipse cx="624.6" cy="378.6" rx="2.5" ry="2.9"/><ellipse cx="632.2" cy="379.1" rx="2.5" ry="2.9"/><ellipse cx="639.9" cy="382.4" rx="2.5" ry="2.9"/><ellipse cx="647.6" cy="390" rx="2.5" ry="2.9"/><ellipse cx="655.2" cy="395" rx="2.5" ry="2.9"/><ellipse cx="662.9" cy="395" rx="2.5" ry="2.9"/><ellipse cx="670.5" cy="401.4" rx="2.5" ry="2.9"/><ellipse cx="678.2" cy="405.1" rx="2.5" ry="2.9"/><ellipse cx="685.8" cy="406.4" rx="2.5" ry="2.9"/><ellipse cx="693.5" cy="408.9" rx="2.5" ry="2.9"/><ellipse cx="701.1" cy="405.1" rx="2.5" ry="2.9"/><ellipse cx="708.8" cy="408.9" rx="2.5" ry="2.9"/><ellipse cx="716.4" cy="410.2" rx="2.5" ry="2.9"/><ellipse cx="724.1" cy="410.7" rx="2.5" ry="2.9"/><ellipse cx="731.7" cy="409.7" rx="2.5" ry="2.9"/><ellipse cx="739.4" cy="411.4" rx="2.5" ry="2.9"/><ellipse cx="747" cy="414" rx="2.5" ry="2.9"/><ellipse cx="754.7" cy="415.2" rx="2.5" ry="2.9"/><ellipse cx="762.3" cy="414.7" rx="2.5" ry="2.9"/><ellipse cx="770" cy="413.5" rx="2.5" ry="2.9"/><ellipse cx="777.6" cy="415.2" rx="2.5" ry="2.9"/><ellipse cx="785.2" cy="416.5" rx="2.5" ry="2.9"/><ellipse cx="792.9" cy="414" rx="2.5" ry="2.9"/><ellipse cx="800.6" cy="412.2" rx="2.5" ry="2.9"/><ellipse cx="808.2" cy="409.7" rx="2.5" ry="2.9"/><ellipse cx="815.9" cy="408.9" rx="2.5" ry="2.9"/><ellipse cx="823.5" cy="407.7" rx="2.5" ry="2.9"/><ellipse cx="831.2" cy="400.1" rx="2.5" ry="2.9"/><ellipse cx="838.8" cy="401.4" rx="2.5" ry="2.9"/><ellipse cx="846.5" cy="397.6" rx="2.5" ry="2.9"/><ellipse cx="854.1" cy="395.5" rx="2.5" ry="2.9"/><ellipse cx="861.8" cy="393.8" rx="2.5" ry="2.9"/><ellipse cx="869.4" cy="391.3" rx="2.5" ry="2.9"/><ellipse cx="877.1" cy="386.2" rx="2.5" ry="2.9"/><ellipse cx="884.7" cy="385" rx="2.5" ry="2.9"/><ellipse cx="892.4" cy="382.4" rx="2.5" ry="2.9"/><ellipse cx="900" cy="373.1" rx="2.5" ry="2.9"/><ellipse cx="907.7" cy="370.3" rx="2.5" ry="2.9"/><ellipse cx="915.3" cy="364.8" rx="2.5" ry="2.9"/><ellipse cx="923" cy="361.5" rx="2.5" ry="2.9"/></g>
<path d="M132.8 339.5 L140.5 335 L148.1 343.3 L155.8 345.3 L163.4 348.4 L171.1 343.8 L178.7 348.9 L186.4 347.1 L194 344.6 L201.7 342.6 L209.3 350.1 L217 347.1 L224.6 316.3 L232.2 247.9 L239.9 195.7 L247.6 213.4 L255.2 236.1 L262.9 270.1 L270.5 289.6 L278.1 307.2 L285.8 328.9 L293.5 342.6 L301.1 348.6 L308.8 355.4 L316.4 355.9 L324.1 351.6 L331.7 342.6 L339.4 325.7 L347 316.3 L354.7 309.3 L362.3 308.2 L370 312.3 L377.6 313.8 L385.2 321.1 L392.9 333.2 L400.6 339 L408.2 344.1 L415.9 344.6 L423.5 336.3 L431.2 342.1 L438.8 327.4 L446.5 337 L454.1 323.9 L461.8 315.6 L469.4 285.3 L477.1 275.2 L484.7 252.5 L492.4 241.6 L500 210.3 L507.7 176 L515.3 169.7 L523 159.6 L532.8 140.7 L540.5 138.9 L548.1 166.7 L555.8 201.3 L563.4 219.7 L571.1 257 L578.7 271.4 L586.4 291.6 L594 313.8 L601.7 327.4 L609.3 337.5 L617 334.5 L624.6 350.1 L632.2 334 L639.9 347.1 L647.6 337.5 L655.2 342.1 L662.9 348.4 L670.5 351.6 L678.2 349.6 L685.8 361.7 L693.5 359.2 L701.1 364.3 L708.8 361.7 L716.4 363.5 L724.1 358.5 L731.7 361.7 L739.4 362.7 L747 352.7 L754.7 339.5 L762.3 313.8 L770 288.6 L777.6 268.4 L785.2 252.5 L792.9 243.1 L800.6 241.6 L808.2 244.9 L815.9 252.5 L823.5 260 L831.2 279 L838.8 290.3 L846.5 292.8 L854.1 296.6 L861.8 296.6 L869.4 289.6 L877.1 294.1 L884.7 288.6 L892.4 273.9 L900 262.6 L907.7 270.9 L915.3 267.6 L923 258" fill="none" stroke="#800000" stroke-width="2.7" stroke-linejoin="round"/>
<g fill="#800000"><ellipse cx="132.8" cy="339.5" rx="3.75" ry="4.35"/><ellipse cx="140.5" cy="335" rx="3.75" ry="4.35"/><ellipse cx="148.1" cy="343.3" rx="3.75" ry="4.35"/><ellipse cx="155.8" cy="345.3" rx="3.75" ry="4.35"/><ellipse cx="163.4" cy="348.4" rx="3.75" ry="4.35"/><ellipse cx="171.1" cy="343.8" rx="3.75" ry="4.35"/><ellipse cx="178.7" cy="348.9" rx="3.75" ry="4.35"/><ellipse cx="186.4" cy="347.1" rx="3.75" ry="4.35"/><ellipse cx="194" cy="344.6" rx="3.75" ry="4.35"/><ellipse cx="201.7" cy="342.6" rx="3.75" ry="4.35"/><ellipse cx="209.3" cy="350.1" rx="3.75" ry="4.35"/><ellipse cx="217" cy="347.1" rx="3.75" ry="4.35"/><ellipse cx="224.6" cy="316.3" rx="3.75" ry="4.35"/><ellipse cx="232.2" cy="247.9" rx="3.75" ry="4.35"/><ellipse cx="239.9" cy="195.7" rx="3.75" ry="4.35"/><ellipse cx="247.6" cy="213.4" rx="3.75" ry="4.35"/><ellipse cx="255.2" cy="236.1" rx="3.75" ry="4.35"/><ellipse cx="262.9" cy="270.1" rx="3.75" ry="4.35"/><ellipse cx="270.5" cy="289.6" rx="3.75" ry="4.35"/><ellipse cx="278.1" cy="307.2" rx="3.75" ry="4.35"/><ellipse cx="285.8" cy="328.9" rx="3.75" ry="4.35"/><ellipse cx="293.5" cy="342.6" rx="3.75" ry="4.35"/><ellipse cx="301.1" cy="348.6" rx="3.75" ry="4.35"/><ellipse cx="308.8" cy="355.4" rx="3.75" ry="4.35"/><ellipse cx="316.4" cy="355.9" rx="3.75" ry="4.35"/><ellipse cx="324.1" cy="351.6" rx="3.75" ry="4.35"/><ellipse cx="331.7" cy="342.6" rx="3.75" ry="4.35"/><ellipse cx="339.4" cy="325.7" rx="3.75" ry="4.35"/><ellipse cx="347" cy="316.3" rx="3.75" ry="4.35"/><ellipse cx="354.7" cy="309.3" rx="3.75" ry="4.35"/><ellipse cx="362.3" cy="308.2" rx="3.75" ry="4.35"/><ellipse cx="370" cy="312.3" rx="3.75" ry="4.35"/><ellipse cx="377.6" cy="313.8" rx="3.75" ry="4.35"/><ellipse cx="385.2" cy="321.1" rx="3.75" ry="4.35"/><ellipse cx="392.9" cy="333.2" rx="3.75" ry="4.35"/><ellipse cx="400.6" cy="339" rx="3.75" ry="4.35"/><ellipse cx="408.2" cy="344.1" rx="3.75" ry="4.35"/><ellipse cx="415.9" cy="344.6" rx="3.75" ry="4.35"/><ellipse cx="423.5" cy="336.3" rx="3.75" ry="4.35"/><ellipse cx="431.2" cy="342.1" rx="3.75" ry="4.35"/><ellipse cx="438.8" cy="327.4" rx="3.75" ry="4.35"/><ellipse cx="446.5" cy="337" rx="3.75" ry="4.35"/><ellipse cx="454.1" cy="323.9" rx="3.75" ry="4.35"/><ellipse cx="461.8" cy="315.6" rx="3.75" ry="4.35"/><ellipse cx="469.4" cy="285.3" rx="3.75" ry="4.35"/><ellipse cx="477.1" cy="275.2" rx="3.75" ry="4.35"/><ellipse cx="484.7" cy="252.5" rx="3.75" ry="4.35"/><ellipse cx="492.4" cy="241.6" rx="3.75" ry="4.35"/><ellipse cx="500" cy="210.3" rx="3.75" ry="4.35"/><ellipse cx="507.7" cy="176" rx="3.75" ry="4.35"/><ellipse cx="515.3" cy="169.7" rx="3.75" ry="4.35"/><ellipse cx="523" cy="159.6" rx="3.75" ry="4.35"/><ellipse cx="532.8" cy="140.7" rx="3.75" ry="4.35"/><ellipse cx="540.5" cy="138.9" rx="3.75" ry="4.35"/><ellipse cx="548.1" cy="166.7" rx="3.75" ry="4.35"/><ellipse cx="555.8" cy="201.3" rx="3.75" ry="4.35"/><ellipse cx="563.4" cy="219.7" rx="3.75" ry="4.35"/><ellipse cx="571.1" cy="257" rx="3.75" ry="4.35"/><ellipse cx="578.7" cy="271.4" rx="3.75" ry="4.35"/><ellipse cx="586.4" cy="291.6" rx="3.75" ry="4.35"/><ellipse cx="594" cy="313.8" rx="3.75" ry="4.35"/><ellipse cx="601.7" cy="327.4" rx="3.75" ry="4.35"/><ellipse cx="609.3" cy="337.5" rx="3.75" ry="4.35"/><ellipse cx="617" cy="334.5" rx="3.75" ry="4.35"/><ellipse cx="624.6" cy="350.1" rx="3.75" ry="4.35"/><ellipse cx="632.2" cy="334" rx="3.75" ry="4.35"/><ellipse cx="639.9" cy="347.1" rx="3.75" ry="4.35"/><ellipse cx="647.6" cy="337.5" rx="3.75" ry="4.35"/><ellipse cx="655.2" cy="342.1" rx="3.75" ry="4.35"/><ellipse cx="662.9" cy="348.4" rx="3.75" ry="4.35"/><ellipse cx="670.5" cy="351.6" rx="3.75" ry="4.35"/><ellipse cx="678.2" cy="349.6" rx="3.75" ry="4.35"/><ellipse cx="685.8" cy="361.7" rx="3.75" ry="4.35"/><ellipse cx="693.5" cy="359.2" rx="3.75" ry="4.35"/><ellipse cx="701.1" cy="364.3" rx="3.75" ry="4.35"/><ellipse cx="708.8" cy="361.7" rx="3.75" ry="4.35"/><ellipse cx="716.4" cy="363.5" rx="3.75" ry="4.35"/><ellipse cx="724.1" cy="358.5" rx="3.75" ry="4.35"/><ellipse cx="731.7" cy="361.7" rx="3.75" ry="4.35"/><ellipse cx="739.4" cy="362.7" rx="3.75" ry="4.35"/><ellipse cx="747" cy="352.7" rx="3.75" ry="4.35"/><ellipse cx="754.7" cy="339.5" rx="3.75" ry="4.35"/><ellipse cx="762.3" cy="313.8" rx="3.75" ry="4.35"/><ellipse cx="770" cy="288.6" rx="3.75" ry="4.35"/><ellipse cx="777.6" cy="268.4" rx="3.75" ry="4.35"/><ellipse cx="785.2" cy="252.5" rx="3.75" ry="4.35"/><ellipse cx="792.9" cy="243.1" rx="3.75" ry="4.35"/><ellipse cx="800.6" cy="241.6" rx="3.75" ry="4.35"/><ellipse cx="808.2" cy="244.9" rx="3.75" ry="4.35"/><ellipse cx="815.9" cy="252.5" rx="3.75" ry="4.35"/><ellipse cx="823.5" cy="260" rx="3.75" ry="4.35"/><ellipse cx="831.2" cy="279" rx="3.75" ry="4.35"/><ellipse cx="838.8" cy="290.3" rx="3.75" ry="4.35"/><ellipse cx="846.5" cy="292.8" rx="3.75" ry="4.35"/><ellipse cx="854.1" cy="296.6" rx="3.75" ry="4.35"/><ellipse cx="861.8" cy="296.6" rx="3.75" ry="4.35"/><ellipse cx="869.4" cy="289.6" rx="3.75" ry="4.35"/><ellipse cx="877.1" cy="294.1" rx="3.75" ry="4.35"/><ellipse cx="884.7" cy="288.6" rx="3.75" ry="4.35"/><ellipse cx="892.4" cy="273.9" rx="3.75" ry="4.35"/><ellipse cx="900" cy="262.6" rx="3.75" ry="4.35"/><ellipse cx="907.7" cy="270.9" rx="3.75" ry="4.35"/><ellipse cx="915.3" cy="267.6" rx="3.75" ry="4.35"/><ellipse cx="923" cy="258" rx="3.75" ry="4.35"/></g>
<g fill="#fff" fill-opacity="0.6" stroke="#800000" stroke-opacity="0.72" stroke-width="1.9"><ellipse cx="931.8" cy="236.6" rx="3.5" ry="3.9"/><ellipse cx="939.7" cy="223" rx="3.5" ry="3.9"/><ellipse cx="947.2" cy="234.8" rx="3.5" ry="3.9"/><ellipse cx="955" cy="280.2" rx="3.5" ry="3.9"/><ellipse cx="962.6" cy="378.6" rx="3.5" ry="3.9"/><ellipse cx="970" cy="511.4" rx="3.5" ry="3.9"/></g>
<text transform="translate(80.5,488.1) scale(1,1.2)" font-size="12" text-anchor="end" fill="#444">40k</text>
<text transform="translate(80.5,412) scale(1,1.2)" font-size="12" text-anchor="end" fill="#444">50k</text>
<text transform="translate(80.5,335.9) scale(1,1.2)" font-size="12" text-anchor="end" fill="#444">60k</text>
<text transform="translate(80.5,259.8) scale(1,1.2)" font-size="12" text-anchor="end" fill="#444">70k</text>
<text transform="translate(80.5,183.7) scale(1,1.2)" font-size="12" text-anchor="end" fill="#444">80k</text>
<text transform="translate(41.5,324.6) rotate(-90) scale(1.133,1)" text-anchor="middle" font-size="15" fill="#444">Deaths per week</text>
<text transform="translate(588.5,50.3) scale(1,1.1)" font-size="13.95" text-anchor="middle" fill="#444">Comparing 2020<tspan font-size="9" dy="-4.5">+</tspan><tspan dy="4.5"> with 2015-2019 death records in </tspan><tspan font-weight="bold" fill="#228b22">All States</tspan> by</text>
<text transform="translate(588.5,75) scale(1,1.1)" font-size="14.05" text-anchor="middle" fill="#444"><tspan font-weight="bold" fill="#800000">All Cause</tspan>, latest CDC record: Mon Feb 14 2022</text>
<rect x="1042.2" y="112.4" width="125" height="305.6" fill="#fff" stroke="#999" stroke-width="1.2"/>
<ellipse cx="1063" cy="140.3" rx="4" ry="4.8" fill="#fff" stroke="#800000" stroke-opacity="0.6" stroke-width="1.5"/>
<text transform="translate(1085,136) scale(1,1.2)" font-size="12.5" text-anchor="start" fill="#444">Counting</text>
<text transform="translate(1085,155.8) scale(1,1.2)" font-size="12.5" text-anchor="start" fill="#444">in progress</text>
<rect x="1047.4" y="172.5" width="31.4" height="7" fill="#6495ed" fill-opacity="0.32"/>
<path d="M1047.4 172.4 H1078.8" stroke="#800000" stroke-width="3.2"/><ellipse cx="1063" cy="172.4" rx="4.3" ry="5" fill="#800000"/>
<text transform="translate(1085,177.3) scale(1,1.2)" font-size="12.5" text-anchor="start" fill="#444">2020<tspan font-size="8.5" dy="-4.5">+</tspan><tspan dy="4.5"> CDC</tspan></text>
<path d="M1084.7 202 H1150.1" stroke="#777" stroke-width="1.1"/>
<path d="M1047.4 228 H1078.8" stroke="#000" stroke-width="2.2"/><ellipse cx="1063" cy="228" rx="2.4" ry="2.8" fill="#000"/>
<text transform="translate(1085,224) scale(1,1.2)" font-size="12.5" text-anchor="start" fill="#444">2015-19</text>
<text transform="translate(1085,243) scale(1,1.2)" font-size="12.5" text-anchor="start" fill="#444">average</text>
<rect x="1047.4" y="257" width="31.4" height="7" fill="#000" fill-opacity="0.125"/>
<text transform="translate(1085,266.8) scale(1,1.2)" font-size="12.5" text-anchor="start" fill="#444">value range</text>
<text transform="translate(1085,290.3) scale(1,1.2)" font-size="12.5" text-anchor="start" fill="#444">(2015-19)</text>
<path d="M1047.4 306.8 H1078.8" stroke="#9467bd" stroke-width="1.2" opacity="0.55"/><ellipse cx="1063" cy="306.8" rx="1.8" ry="2.1" fill="#9467bd" opacity="0.9"/>
<text transform="translate(1085,313.2) scale(1,1.2)" font-size="12.5" text-anchor="start" fill="#444">2019</text>
<path d="M1047.4 330 H1078.8" stroke="#d62728" stroke-width="1.2" opacity="0.55"/><ellipse cx="1063" cy="330" rx="1.8" ry="2.1" fill="#d62728" opacity="0.9"/>
<text transform="translate(1085,336.4) scale(1,1.2)" font-size="12.5" text-anchor="start" fill="#444">2018</text>
<path d="M1047.4 353.2 H1078.8" stroke="#2ca02c" stroke-width="1.2" opacity="0.55"/><ellipse cx="1063" cy="353.2" rx="1.8" ry="2.1" fill="#2ca02c" opacity="0.9"/>
<text transform="translate(1085,359.6) scale(1,1.2)" font-size="12.5" text-anchor="start" fill="#444">2017</text>
<path d="M1047.4 376.4 H1078.8" stroke="#ff7f0e" stroke-width="1.2" opacity="0.55"/><ellipse cx="1063" cy="376.4" rx="1.8" ry="2.1" fill="#ff7f0e" opacity="0.9"/>
<text transform="translate(1085,382.8) scale(1,1.2)" font-size="12.5" text-anchor="start" fill="#444">2016</text>
<path d="M1047.4 399.6 H1078.8" stroke="#1f77b4" stroke-width="1.2" opacity="0.55"/><ellipse cx="1063" cy="399.6" rx="1.8" ry="2.1" fill="#1f77b4" opacity="0.9"/>
<text transform="translate(1085,406) scale(1,1.2)" font-size="12.5" text-anchor="start" fill="#444">2015</text>
</g>
<text x="568.3" y="550.6" text-anchor="middle" font-family="'Liberation Serif', 'DejaVu Serif', serif" font-size="45.8" fill="#4472c4" text-decoration="underline">https://episphere.github.io/mortalitytracker</text>
<g filter="url(#b2)">
<g stroke="#eeeeee" stroke-width="1.25" fill="none">
<path d="M233.6 670 V1227.2"/>
<path d="M333.6 670 V1227.2"/>
<path d="M435.6 670 V1227.2"/>
<path d="M536.8 670 V1227.2"/>
<path d="M636.6 670 V1227.2"/>
<path d="M737.2 670 V1227.2"/>
<path d="M838.6 670 V1227.2"/>
<path d="M939.9 670 V1227.2"/>
<path d="M136 1165.1 H999.5"/>
<path d="M136 1102.9 H999.5"/>
<path d="M136 1040.8 H999.5"/>
<path d="M136 978.6 H999.5"/>
<path d="M136 916.5 H999.5"/>
<path d="M136 854.4 H999.5"/>
<path d="M136 792.2 H999.5"/>
<path d="M136 730.1 H999.5"/>
</g>
<path d="M136 1227.6 H999.5" stroke="#5c5c5c" stroke-width="1.9"/>
<path d="M136.3 1223.4 L144 1223.4 L151.8 1223.4 L159.5 1223.4 L167.2 1223.4 L174.9 1223.4 L182.7 1223.4 L190.4 1223.4 L198.1 1223.4 L205.8 1223.4 L213.6 1223.4 L221.3 1223.4 L229 1223.4 L236.7 1223.4 L244.4 1223.4 L252.2 1223.5 L259.9 1223.6 L267.6 1223.7 L275.4 1223.8 L283.1 1223.9 L290.8 1224 L298.5 1224.1 L306.2 1224.2 L314 1224.2 L321.7 1224.1 L329.4 1224.1 L337.1 1224.1 L344.9 1224.1 L352.6 1224.1 L360.3 1224.1 L368.1 1224 L375.8 1224 L383.5 1224 L391.2 1224 L398.9 1224 L406.7 1224 L414.4 1223.9 L422.1 1223.9 L429.9 1223.9 L437.6 1223.9 L445.3 1223.8 L453 1223.8 L460.8 1223.8 L468.5 1223.8 L476.2 1223.7 L483.9 1223.7 L491.6 1223.7 L499.4 1223.6 L507.1 1223.6 L514.8 1223.6 L522.5 1223.5 L530.3 1223.5 L539.5 1223.5 L547.2 1223.4 L555 1223.2 L562.7 1223.1 L570.4 1222.9 L578.1 1222.8 L585.8 1222.6 L593.6 1222.4 L601.3 1222.3 L609 1222.5 L616.8 1222.6 L624.5 1222.7 L632.2 1222.9 L639.9 1223 L647.6 1222.9 L655.4 1222.9 L663.1 1222.9 L670.8 1222.8 L678.5 1222.8 L686.3 1222.8 L694 1222.6 L701.7 1222.5 L709.5 1222.4 L717.2 1222.2 L724.9 1222.1 L732.6 1222 L740.3 1221.8 L748.1 1221.6 L755.8 1221.3 L763.5 1221.1 L771.2 1220.9 L779 1220.6 L786.7 1220.3 L794.4 1220 L802.2 1219.7 L809.9 1219.4 L817.6 1219.1 L825.3 1218.6 L833 1218.1 L840.8 1217.6 L848.5 1217.1 L856.2 1216.6 L864 1215.9 L871.7 1215 L879.4 1214.1 L887.1 1213.2 L894.8 1212.2 L902.6 1211.3 L910.3 1210.3 L918 1209 L925.8 1207.7 L933.5 1206.3 L933.5 1227.2 L925.8 1227.2 L918 1227.2 L910.3 1227.2 L902.6 1227.2 L894.8 1227.2 L887.1 1227.2 L879.4 1227.2 L871.7 1227.2 L864 1227.2 L856.2 1227.2 L848.5 1227.2 L840.8 1227.2 L833 1227.2 L825.3 1227.2 L817.6 1227.2 L809.9 1227.2 L802.2 1227.2 L794.4 1227.2 L786.7 1227.2 L779 1227.2 L771.2 1227.2 L763.5 1227.2 L755.8 1227.2 L748.1 1227.2 L740.3 1227.2 L732.6 1227.2 L724.9 1227.2 L717.2 1227.2 L709.5 1227.2 L701.7 1227.2 L694 1227.2 L686.3 1227.2 L678.5 1227.2 L670.8 1227.2 L663.1 1227.2 L655.4 1227.2 L647.6 1227.2 L639.9 1227.2 L632.2 1227.2 L624.5 1227.2 L616.8 1227.2 L609 1227.2 L601.3 1227.2 L593.6 1227.2 L585.8 1227.2 L578.1 1227.2 L570.4 1227.2 L562.7 1227.2 L555 1227.2 L547.2 1227.2 L539.5 1227.2 L530.3 1227.2 L522.5 1227.2 L514.8 1227.2 L507.1 1227.2 L499.4 1227.2 L491.6 1227.2 L483.9 1227.2 L476.2 1227.2 L468.5 1227.2 L460.8 1227.2 L453 1227.2 L445.3 1227.2 L437.6 1227.2 L429.9 1227.2 L422.1 1227.2 L414.4 1227.2 L406.7 1227.2 L398.9 1227.2 L391.2 1227.2 L383.5 1227.2 L375.8 1227.2 L368.1 1227.2 L360.3 1227.2 L352.6 1227.2 L344.9 1227.2 L337.1 1227.2 L329.4 1227.2 L321.7 1227.2 L314 1227.2 L306.2 1227.2 L298.5 1227.2 L290.8 1227.2 L283.1 1227.2 L275.4 1227.2 L267.6 1227.2 L259.9 1227.2 L252.2 1227.2 L244.4 1227.2 L236.7 1227.2 L229 1227.2 L221.3 1227.2 L213.6 1227.2 L205.8 1227.2 L198.1 1227.2 L190.4 1227.2 L182.7 1227.2 L174.9 1227.2 L167.2 1227.2 L159.5 1227.2 L151.8 1227.2 L144 1227.2 L136.3 1227.2 Z" fill="#1f77b4" fill-opacity="0.5" stroke="none"/>
<path d="M136.3 1219.6 L144 1219.6 L151.8 1219.6 L159.5 1219.6 L167.2 1219.6 L174.9 1219.6 L182.7 1219.6 L190.4 1219.6 L198.1 1219.6 L205.8 1219.5 L213.6 1219.4 L221.3 1219.2 L229 1219 L236.7 1218.9 L244.4 1218.9 L252.2 1219 L259.9 1219.2 L267.6 1219.4 L275.4 1219.6 L283.1 1219.8 L290.8 1220 L298.5 1220.2 L306.2 1220.4 L314 1220.4 L321.7 1220.4 L329.4 1220.4 L337.1 1220.4 L344.9 1220.4 L352.6 1220.4 L360.3 1220.4 L368.1 1220.4 L375.8 1220.4 L383.5 1220.4 L391.2 1220.4 L398.9 1220.4 L406.7 1220.4 L414.4 1220.4 L422.1 1220.4 L429.9 1220.2 L437.6 1220.1 L445.3 1219.9 L453 1219.8 L460.8 1219.7 L468.5 1219.5 L476.2 1219.4 L483.9 1219.3 L491.6 1219.1 L499.4 1219 L507.1 1218.9 L514.8 1218.8 L522.5 1218.7 L530.3 1218.6 L539.5 1218.5 L547.2 1218.4 L555 1218.4 L562.7 1218.4 L570.4 1218.4 L578.1 1218.4 L585.8 1218.4 L593.6 1218.4 L601.3 1218.4 L609 1218.5 L616.8 1218.7 L624.5 1218.8 L632.2 1219 L639.9 1219 L647.6 1219 L655.4 1219 L663.1 1219 L670.8 1219 L678.5 1219 L686.3 1219 L694 1218.9 L701.7 1218.8 L709.5 1218.7 L717.2 1218.6 L724.9 1218.5 L732.6 1218.4 L740.3 1218.3 L748.1 1217.9 L755.8 1217.6 L763.5 1217.3 L771.2 1217 L779 1216.6 L786.7 1216.2 L794.4 1215.9 L802.2 1215.5 L809.9 1215.1 L817.6 1214.7 L825.3 1214.1 L833 1213.5 L840.8 1212.9 L848.5 1212.3 L856.2 1211.7 L864 1210.9 L871.7 1210 L879.4 1209.1 L887.1 1208.2 L894.8 1207.1 L902.6 1206.1 L910.3 1205.1 L918 1203.7 L925.8 1202.2 L933.5 1200.8 L933.5 1206.3 L925.8 1207.7 L918 1209 L910.3 1210.3 L902.6 1211.3 L894.8 1212.2 L887.1 1213.2 L879.4 1214.1 L871.7 1215 L864 1215.9 L856.2 1216.6 L848.5 1217.1 L840.8 1217.6 L833 1218.1 L825.3 1218.6 L817.6 1219.1 L809.9 1219.4 L802.2 1219.7 L794.4 1220 L786.7 1220.3 L779 1220.6 L771.2 1220.9 L763.5 1221.1 L755.8 1221.3 L748.1 1221.6 L740.3 1221.8 L732.6 1222 L724.9 1222.1 L717.2 1222.2 L709.5 1222.4 L701.7 1222.5 L694 1222.6 L686.3 1222.8 L678.5 1222.8 L670.8 1222.8 L663.1 1222.9 L655.4 1222.9 L647.6 1222.9 L639.9 1223 L632.2 1222.9 L624.5 1222.7 L616.8 1222.6 L609 1222.5 L601.3 1222.3 L593.6 1222.4 L585.8 1222.6 L578.1 1222.8 L570.4 1222.9 L562.7 1223.1 L555 1223.2 L547.2 1223.4 L539.5 1223.5 L530.3 1223.5 L522.5 1223.5 L514.8 1223.6 L507.1 1223.6 L499.4 1223.6 L491.6 1223.7 L483.9 1223.7 L476.2 1223.7 L468.5 1223.8 L460.8 1223.8 L453 1223.8 L445.3 1223.8 L437.6 1223.9 L429.9 1223.9 L422.1 1223.9 L414.4 1223.9 L406.7 1224 L398.9 1224 L391.2 1224 L383.5 1224 L375.8 1224 L368.1 1224 L360.3 1224.1 L352.6 1224.1 L344.9 1224.1 L337.1 1224.1 L329.4 1224.1 L321.7 1224.1 L314 1224.2 L306.2 1224.2 L298.5 1224.1 L290.8 1224 L283.1 1223.9 L275.4 1223.8 L267.6 1223.7 L259.9 1223.6 L252.2 1223.5 L244.4 1223.4 L236.7 1223.4 L229 1223.4 L221.3 1223.4 L213.6 1223.4 L205.8 1223.4 L198.1 1223.4 L190.4 1223.4 L182.7 1223.4 L174.9 1223.4 L167.2 1223.4 L159.5 1223.4 L151.8 1223.4 L144 1223.4 L136.3 1223.4 Z" fill="#ff7f0e" fill-opacity="0.5" stroke="none"/>
<path d="M136.3 1213.9 L144 1213.9 L151.8 1213.9 L159.5 1214 L167.2 1214 L174.9 1214 L182.7 1214 L190.4 1214.1 L198.1 1214.1 L205.8 1213.9 L213.6 1213.6 L221.3 1213.3 L229 1213.1 L236.7 1212.9 L244.4 1213 L252.2 1213.2 L259.9 1213.6 L267.6 1214 L275.4 1214.4 L283.1 1214.7 L290.8 1215.1 L298.5 1215.5 L306.2 1215.9 L314 1215.9 L321.7 1215.9 L329.4 1215.9 L337.1 1215.9 L344.9 1215.9 L352.6 1215.9 L360.3 1215.9 L368.1 1215.9 L375.8 1215.9 L383.5 1215.9 L391.2 1215.9 L398.9 1215.9 L406.7 1215.9 L414.4 1215.9 L422.1 1215.8 L429.9 1215.7 L437.6 1215.5 L445.3 1215.3 L453 1215.2 L460.8 1215 L468.5 1214.8 L476.2 1214.7 L483.9 1214.5 L491.6 1214.3 L499.4 1214.2 L507.1 1214.1 L514.8 1213.9 L522.5 1213.8 L530.3 1213.6 L539.5 1213.5 L547.2 1213.4 L555 1213.6 L562.7 1213.8 L570.4 1214 L578.1 1214.1 L585.8 1214.3 L593.6 1214.5 L601.3 1214.7 L609 1214.8 L616.8 1215 L624.5 1215.1 L632.2 1215.3 L639.9 1215.3 L647.6 1215.3 L655.4 1215.3 L663.1 1215.2 L670.8 1215.2 L678.5 1215.2 L686.3 1215.1 L694 1215 L701.7 1214.8 L709.5 1214.6 L717.2 1214.5 L724.9 1214.3 L732.6 1214.1 L740.3 1213.9 L748.1 1213.7 L755.8 1213.5 L763.5 1213.3 L771.2 1213 L779 1212.7 L786.7 1212.3 L794.4 1211.9 L802.2 1211.6 L809.9 1211.2 L817.6 1210.8 L825.3 1210.1 L833 1209.4 L840.8 1208.7 L848.5 1208 L856.2 1207.3 L864 1206.6 L871.7 1205.9 L879.4 1205.2 L887.1 1204.4 L894.8 1203.2 L902.6 1202 L910.3 1200.7 L918 1199.2 L925.8 1197.5 L933.5 1195.8 L933.5 1200.8 L925.8 1202.2 L918 1203.7 L910.3 1205.1 L902.6 1206.1 L894.8 1207.1 L887.1 1208.2 L879.4 1209.1 L871.7 1210 L864 1210.9 L856.2 1211.7 L848.5 1212.3 L840.8 1212.9 L833 1213.5 L825.3 1214.1 L817.6 1214.7 L809.9 1215.1 L802.2 1215.5 L794.4 1215.9 L786.7 1216.2 L779 1216.6 L771.2 1217 L763.5 1217.3 L755.8 1217.6 L748.1 1217.9 L740.3 1218.3 L732.6 1218.4 L724.9 1218.5 L717.2 1218.6 L709.5 1218.7 L701.7 1218.8 L694 1218.9 L686.3 1219 L678.5 1219 L670.8 1219 L663.1 1219 L655.4 1219 L647.6 1219 L639.9 1219 L632.2 1219 L624.5 1218.8 L616.8 1218.7 L609 1218.5 L601.3 1218.4 L593.6 1218.4 L585.8 1218.4 L578.1 1218.4 L570.4 1218.4 L562.7 1218.4 L555 1218.4 L547.2 1218.4 L539.5 1218.5 L530.3 1218.6 L522.5 1218.7 L514.8 1218.8 L507.1 1218.9 L499.4 1219 L491.6 1219.1 L483.9 1219.3 L476.2 1219.4 L468.5 1219.5 L460.8 1219.7 L453 1219.8 L445.3 1219.9 L437.6 1220.1 L429.9 1220.2 L422.1 1220.4 L414.4 1220.4 L406.7 1220.4 L398.9 1220.4 L391.2 1220.4 L383.5 1220.4 L375.8 1220.4 L368.1 1220.4 L360.3 1220.4 L352.6 1220.4 L344.9 1220.4 L337.1 1220.4 L329.4 1220.4 L321.7 1220.4 L314 1220.4 L306.2 1220.4 L298.5 1220.2 L290.8 1220 L283.1 1219.8 L275.4 1219.6 L267.6 1219.4 L259.9 1219.2 L252.2 1219 L244.4 1218.9 L236.7 1218.9 L229 1219 L221.3 1219.2 L213.6 1219.4 L205.8 1219.5 L198.1 1219.6 L190.4 1219.6 L182.7 1219.6 L174.9 1219.6 L167.2 1219.6 L159.5 1219.6 L151.8 1219.6 L144 1219.6 L136.3 1219.6 Z" fill="#2ca02c" fill-opacity="0.5" stroke="none"/>
<path d="M136.3 1207.8 L144 1207.9 L151.8 1207.9 L159.5 1208 L167.2 1208.1 L174.9 1208.1 L182.7 1208.2 L190.4 1208.2 L198.1 1208.3 L205.8 1208 L213.6 1207.6 L221.3 1207.3 L229 1206.9 L236.7 1206.6 L244.4 1206.9 L252.2 1207.2 L259.9 1207.8 L267.6 1208.4 L275.4 1209 L283.1 1209.6 L290.8 1210.2 L298.5 1210.8 L306.2 1211.4 L314 1211.4 L321.7 1211.4 L329.4 1211.4 L337.1 1211.4 L344.9 1211.4 L352.6 1211.4 L360.3 1211.4 L368.1 1211.4 L375.8 1211.4 L383.5 1211.4 L391.2 1211.4 L398.9 1211.4 L406.7 1211.4 L414.4 1211.4 L422.1 1211.3 L429.9 1211 L437.6 1210.7 L445.3 1210.4 L453 1210.2 L460.8 1209.9 L468.5 1209.6 L476.2 1209.3 L483.9 1209 L491.6 1208.8 L499.4 1208.5 L507.1 1208.3 L514.8 1208 L522.5 1207.8 L530.3 1207.6 L539.5 1207.3 L547.2 1207.1 L555 1207.4 L562.7 1207.7 L570.4 1208 L578.1 1208.4 L585.8 1208.7 L593.6 1209 L601.3 1209.3 L609 1209.5 L616.8 1209.7 L624.5 1209.9 L632.2 1210.2 L639.9 1210.3 L647.6 1210.2 L655.4 1210.2 L663.1 1210.1 L670.8 1210 L678.5 1210 L686.3 1209.9 L694 1209.7 L701.7 1209.5 L709.5 1209.3 L717.2 1209.1 L724.9 1208.9 L732.6 1208.7 L740.3 1208.4 L748.1 1208.1 L755.8 1207.8 L763.5 1207.5 L771.2 1207.2 L779 1206.8 L786.7 1206.4 L794.4 1206 L802.2 1205.7 L809.9 1205.3 L817.6 1204.9 L825.3 1204.3 L833 1203.7 L840.8 1203.1 L848.5 1202.5 L856.2 1201.9 L864 1201.1 L871.7 1200.3 L879.4 1199.5 L887.1 1198.6 L894.8 1197.3 L902.6 1196.1 L910.3 1194.8 L918 1193.1 L925.8 1191.3 L933.5 1189.4 L933.5 1195.8 L925.8 1197.5 L918 1199.2 L910.3 1200.7 L902.6 1202 L894.8 1203.2 L887.1 1204.4 L879.4 1205.2 L871.7 1205.9 L864 1206.6 L856.2 1207.3 L848.5 1208 L840.8 1208.7 L833 1209.4 L825.3 1210.1 L817.6 1210.8 L809.9 1211.2 L802.2 1211.6 L794.4 1211.9 L786.7 1212.3 L779 1212.7 L771.2 1213 L763.5 1213.3 L755.8 1213.5 L748.1 1213.7 L740.3 1213.9 L732.6 1214.1 L724.9 1214.3 L717.2 1214.5 L709.5 1214.6 L701.7 1214.8 L694 1215 L686.3 1215.1 L678.5 1215.2 L670.8 1215.2 L663.1 1215.2 L655.4 1215.3 L647.6 1215.3 L639.9 1215.3 L632.2 1215.3 L624.5 1215.1 L616.8 1215 L609 1214.8 L601.3 1214.7 L593.6 1214.5 L585.8 1214.3 L578.1 1214.1 L570.4 1214 L562.7 1213.8 L555 1213.6 L547.2 1213.4 L539.5 1213.5 L530.3 1213.6 L522.5 1213.8 L514.8 1213.9 L507.1 1214.1 L499.4 1214.2 L491.6 1214.3 L483.9 1214.5 L476.2 1214.7 L468.5 1214.8 L460.8 1215 L453 1215.2 L445.3 1215.3 L437.6 1215.5 L429.9 1215.7 L422.1 1215.8 L414.4 1215.9 L406.7 1215.9 L398.9 1215.9 L391.2 1215.9 L383.5 1215.9 L375.8 1215.9 L368.1 1215.9 L360.3 1215.9 L352.6 1215.9 L344.9 1215.9 L337.1 1215.9 L329.4 1215.9 L321.7 1215.9 L314 1215.9 L306.2 1215.9 L298.5 1215.5 L290.8 1215.1 L283.1 1214.7 L275.4 1214.4 L267.6 1214 L259.9 1213.6 L252.2 1213.2 L244.4 1213 L236.7 1212.9 L229 1213.1 L221.3 1213.3 L213.6 1213.6 L205.8 1213.9 L198.1 1214.1 L190.4 1214.1 L182.7 1214 L174.9 1214 L167.2 1214 L159.5 1214 L151.8 1213.9 L144 1213.9 L136.3 1213.9 Z" fill="#d62728" fill-opacity="0.5" stroke="none"/>
<path d="M136.3 1138.7 L144 1135.4 L151.8 1137.9 L159.5 1138.2 L167.2 1138.7 L174.9 1138.2 L182.7 1137.9 L190.4 1137.2 L198.1 1136.7 L205.8 1137.7 L213.6 1138.7 L221.3 1137.2 L229 1135.4 L236.7 1136.1 L244.4 1137.1 L252.2 1140.4 L259.9 1142.4 L267.6 1143.2 L275.4 1143.7 L283.1 1143.7 L290.8 1143.7 L298.5 1144.7 L306.2 1143.8 L314 1143.2 L321.7 1143 L329.4 1142.2 L337.1 1141.7 L344.9 1141.2 L352.6 1141 L360.3 1140.5 L368.1 1139.7 L375.8 1139.4 L383.5 1139.2 L391.2 1139.8 L398.9 1141.2 L406.7 1142.7 L414.4 1143.7 L422.1 1139.4 L429.9 1138.6 L437.6 1139.4 L445.3 1138 L453 1139.9 L460.8 1139.8 L468.5 1139.8 L476.2 1138.3 L483.9 1137.8 L491.6 1137.2 L499.4 1139.1 L507.1 1137.4 L514.8 1133.7 L522.5 1135.8 L530.3 1136.5 L539.5 1135.7 L547.2 1132.3 L555 1135.7 L562.7 1137.3 L570.4 1138 L578.1 1138.6 L585.8 1138.1 L593.6 1139.3 L601.3 1139.9 L609 1139.5 L616.8 1139.9 L624.5 1140.2 L632.2 1142.7 L639.9 1140.7 L647.6 1140.6 L655.4 1139.3 L663.1 1139.8 L670.8 1140.5 L678.5 1140 L686.3 1139 L694 1141.3 L701.7 1141.5 L709.5 1141.5 L717.2 1141.5 L724.9 1140.4 L732.6 1139.6 L740.3 1139.8 L748.1 1140.1 L755.8 1139.6 L763.5 1138.3 L771.2 1136.5 L779 1134.2 L786.7 1135 L794.4 1135.2 L802.2 1135.2 L809.9 1134.4 L817.6 1132.1 L825.3 1133.8 L833 1131.1 L840.8 1133.8 L848.5 1133.2 L856.2 1132 L864 1130.4 L871.7 1128.9 L879.4 1128 L887.1 1128.1 L894.8 1126 L902.6 1123.4 L910.3 1122 L918 1124.9 L925.8 1122.8 L933.5 1119.7 L933.5 1189.4 L925.8 1191.3 L918 1193.1 L910.3 1194.8 L902.6 1196.1 L894.8 1197.3 L887.1 1198.6 L879.4 1199.5 L871.7 1200.3 L864 1201.1 L856.2 1201.9 L848.5 1202.5 L840.8 1203.1 L833 1203.7 L825.3 1204.3 L817.6 1204.9 L809.9 1205.3 L802.2 1205.7 L794.4 1206 L786.7 1206.4 L779 1206.8 L771.2 1207.2 L763.5 1207.5 L755.8 1207.8 L748.1 1208.1 L740.3 1208.4 L732.6 1208.7 L724.9 1208.9 L717.2 1209.1 L709.5 1209.3 L701.7 1209.5 L694 1209.7 L686.3 1209.9 L678.5 1210 L670.8 1210 L663.1 1210.1 L655.4 1210.2 L647.6 1210.2 L639.9 1210.3 L632.2 1210.2 L624.5 1209.9 L616.8 1209.7 L609 1209.5 L601.3 1209.3 L593.6 1209 L585.8 1208.7 L578.1 1208.4 L570.4 1208 L562.7 1207.7 L555 1207.4 L547.2 1207.1 L539.5 1207.3 L530.3 1207.6 L522.5 1207.8 L514.8 1208 L507.1 1208.3 L499.4 1208.5 L491.6 1208.8 L483.9 1209 L476.2 1209.3 L468.5 1209.6 L460.8 1209.9 L453 1210.2 L445.3 1210.4 L437.6 1210.7 L429.9 1211 L422.1 1211.3 L414.4 1211.4 L406.7 1211.4 L398.9 1211.4 L391.2 1211.4 L383.5 1211.4 L375.8 1211.4 L368.1 1211.4 L360.3 1211.4 L352.6 1211.4 L344.9 1211.4 L337.1 1211.4 L329.4 1211.4 L321.7 1211.4 L314 1211.4 L306.2 1211.4 L298.5 1210.8 L290.8 1210.2 L283.1 1209.6 L275.4 1209 L267.6 1208.4 L259.9 1207.8 L252.2 1207.2 L244.4 1206.9 L236.7 1206.6 L229 1206.9 L221.3 1207.3 L213.6 1207.6 L205.8 1208 L198.1 1208.3 L190.4 1208.2 L182.7 1208.2 L174.9 1208.1 L167.2 1208.1 L159.5 1208 L151.8 1207.9 L144 1207.9 L136.3 1207.8 Z" fill="#9467bd" fill-opacity="0.5" stroke="none"/>
<path d="M136.3 1127.9 L144 1126.1 L151.8 1127.9 L159.5 1128.4 L167.2 1129.1 L174.9 1128.9 L182.7 1128.6 L190.4 1127.9 L198.1 1127.1 L205.8 1127.8 L213.6 1128.6 L221.3 1126.6 L229 1125.4 L236.7 1125.3 L244.4 1127.8 L252.2 1132.8 L259.9 1136.1 L267.6 1139.1 L275.4 1139.9 L283.1 1139.7 L290.8 1141.1 L298.5 1142.2 L306.2 1141.7 L314 1141.2 L321.7 1140.5 L329.4 1139.7 L337.1 1139.2 L344.9 1138.7 L352.6 1138 L360.3 1137.2 L368.1 1136.7 L375.8 1135.7 L383.5 1134.9 L391.2 1136.2 L398.9 1137.9 L406.7 1139.2 L414.4 1139.9 L422.1 1135.2 L429.9 1134.4 L437.6 1135.3 L445.3 1134 L453 1135.8 L460.8 1135.7 L468.5 1135.5 L476.2 1133.9 L483.9 1133.3 L491.6 1132.7 L499.4 1134.6 L507.1 1132.9 L514.8 1129.4 L522.5 1131.3 L530.3 1132 L539.5 1131.1 L547.2 1127.6 L555 1131.2 L562.7 1132.5 L570.4 1133 L578.1 1133.7 L585.8 1133.4 L593.6 1134.7 L601.3 1135.4 L609 1135.1 L616.8 1135.6 L624.5 1135.6 L632.2 1137.7 L639.9 1135.9 L647.6 1136.1 L655.4 1135 L663.1 1135.5 L670.8 1136.3 L678.5 1135.6 L686.3 1134.5 L694 1136.3 L701.7 1136.5 L709.5 1136.5 L717.2 1137.5 L724.9 1136.1 L732.6 1135.3 L740.3 1135.5 L748.1 1135.7 L755.8 1135 L763.5 1133.9 L771.2 1132.2 L779 1129.9 L786.7 1130.7 L794.4 1130.9 L802.2 1130.9 L809.9 1130.1 L817.6 1127.8 L825.3 1129.3 L833 1126.5 L840.8 1129.3 L848.5 1128.7 L856.2 1127.5 L864 1125.9 L871.7 1124.4 L879.4 1123.2 L887.1 1123 L894.8 1120.7 L902.6 1118 L910.3 1116.9 L918 1119.8 L925.8 1117.1 L933.5 1113.9 L933.5 1119.7 L925.8 1122.8 L918 1124.9 L910.3 1122 L902.6 1123.4 L894.8 1126 L887.1 1128.1 L879.4 1128 L871.7 1128.9 L864 1130.4 L856.2 1132 L848.5 1133.2 L840.8 1133.8 L833 1131.1 L825.3 1133.8 L817.6 1132.1 L809.9 1134.4 L802.2 1135.2 L794.4 1135.2 L786.7 1135 L779 1134.2 L771.2 1136.5 L763.5 1138.3 L755.8 1139.6 L748.1 1140.1 L740.3 1139.8 L732.6 1139.6 L724.9 1140.4 L717.2 1141.5 L709.5 1141.5 L701.7 1141.5 L694 1141.3 L686.3 1139 L678.5 1140 L670.8 1140.5 L663.1 1139.8 L655.4 1139.3 L647.6 1140.6 L639.9 1140.7 L632.2 1142.7 L624.5 1140.2 L616.8 1139.9 L609 1139.5 L601.3 1139.9 L593.6 1139.3 L585.8 1138.1 L578.1 1138.6 L570.4 1138 L562.7 1137.3 L555 1135.7 L547.2 1132.3 L539.5 1135.7 L530.3 1136.5 L522.5 1135.8 L514.8 1133.7 L507.1 1137.4 L499.4 1139.1 L491.6 1137.2 L483.9 1137.8 L476.2 1138.3 L468.5 1139.8 L460.8 1139.8 L453 1139.9 L445.3 1138 L437.6 1139.4 L429.9 1138.6 L422.1 1139.4 L414.4 1143.7 L406.7 1142.7 L398.9 1141.2 L391.2 1139.8 L383.5 1139.2 L375.8 1139.4 L368.1 1139.7 L360.3 1140.5 L352.6 1141 L344.9 1141.2 L337.1 1141.7 L329.4 1142.2 L321.7 1143 L314 1143.2 L306.2 1143.8 L298.5 1144.7 L290.8 1143.7 L283.1 1143.7 L275.4 1143.7 L267.6 1143.2 L259.9 1142.4 L252.2 1140.4 L244.4 1137.1 L236.7 1136.1 L229 1135.4 L221.3 1137.2 L213.6 1138.7 L205.8 1137.7 L198.1 1136.7 L190.4 1137.2 L182.7 1137.9 L174.9 1138.2 L167.2 1138.7 L159.5 1138.2 L151.8 1137.9 L144 1135.4 L136.3 1138.7 Z" fill="#8c564b" fill-opacity="0.5" stroke="none"/>
<path d="M136.3 1042.3 L144 1040.5 L151.8 1044 L159.5 1043.5 L167.2 1045.5 L174.9 1043.1 L182.7 1044 L190.4 1044.8 L198.1 1044.1 L205.8 1044 L213.6 1047.3 L221.3 1045.6 L229 1039.9 L236.7 1034.1 L244.4 1031.5 L252.2 1045.2 L259.9 1052.9 L267.6 1058.5 L275.4 1060.6 L283.1 1062.4 L290.8 1064.4 L298.5 1066.6 L306.2 1065.7 L314 1065.4 L321.7 1064.2 L329.4 1063.7 L337.1 1062 L344.9 1058.8 L352.6 1059.1 L360.3 1058.2 L368.1 1057.4 L375.8 1059 L383.5 1057.5 L391.2 1059 L398.9 1061 L406.7 1063 L414.4 1063.6 L422.1 1060.9 L429.9 1058.2 L437.6 1061.1 L445.3 1057.5 L453 1061.5 L460.8 1058.5 L468.5 1056.1 L476.2 1051.1 L483.9 1050.9 L491.6 1049.8 L499.4 1053.5 L507.1 1047.1 L514.8 1042.2 L522.5 1041.5 L530.3 1041 L539.5 1040.4 L547.2 1038.6 L555 1042.5 L562.7 1045.7 L570.4 1047.2 L578.1 1049.7 L585.8 1049.1 L593.6 1053 L601.3 1056.1 L609 1056.2 L616.8 1058.9 L624.5 1057.5 L632.2 1062.8 L639.9 1058.3 L647.6 1060.6 L655.4 1058.1 L663.1 1059.2 L670.8 1060.5 L678.5 1061.6 L686.3 1061.2 L694 1063.1 L701.7 1063.2 L709.5 1063.2 L717.2 1060.8 L724.9 1060.7 L732.6 1059.1 L740.3 1060.7 L748.1 1061.6 L755.8 1059.7 L763.5 1057 L771.2 1053.3 L779 1051.1 L786.7 1050.9 L794.4 1049.9 L802.2 1050.6 L809.9 1049.8 L817.6 1049.2 L825.3 1050.8 L833 1048.2 L840.8 1050.5 L848.5 1051.1 L856.2 1049.7 L864 1047.2 L871.7 1044.5 L879.4 1041.6 L887.1 1042 L894.8 1039.3 L902.6 1036 L910.3 1033.1 L918 1036.3 L925.8 1033.3 L933.5 1030.5 L933.5 1113.9 L925.8 1117.1 L918 1119.8 L910.3 1116.9 L902.6 1118 L894.8 1120.7 L887.1 1123 L879.4 1123.2 L871.7 1124.4 L864 1125.9 L856.2 1127.5 L848.5 1128.7 L840.8 1129.3 L833 1126.5 L825.3 1129.3 L817.6 1127.8 L809.9 1130.1 L802.2 1130.9 L794.4 1130.9 L786.7 1130.7 L779 1129.9 L771.2 1132.2 L763.5 1133.9 L755.8 1135 L748.1 1135.7 L740.3 1135.5 L732.6 1135.3 L724.9 1136.1 L717.2 1137.5 L709.5 1136.5 L701.7 1136.5 L694 1136.3 L686.3 1134.5 L678.5 1135.6 L670.8 1136.3 L663.1 1135.5 L655.4 1135 L647.6 1136.1 L639.9 1135.9 L632.2 1137.7 L624.5 1135.6 L616.8 1135.6 L609 1135.1 L601.3 1135.4 L593.6 1134.7 L585.8 1133.4 L578.1 1133.7 L570.4 1133 L562.7 1132.5 L555 1131.2 L547.2 1127.6 L539.5 1131.1 L530.3 1132 L522.5 1131.3 L514.8 1129.4 L507.1 1132.9 L499.4 1134.6 L491.6 1132.7 L483.9 1133.3 L476.2 1133.9 L468.5 1135.5 L460.8 1135.7 L453 1135.8 L445.3 1134 L437.6 1135.3 L429.9 1134.4 L422.1 1135.2 L414.4 1139.9 L406.7 1139.2 L398.9 1137.9 L391.2 1136.2 L383.5 1134.9 L375.8 1135.7 L368.1 1136.7 L360.3 1137.2 L352.6 1138 L344.9 1138.7 L337.1 1139.2 L329.4 1139.7 L321.7 1140.5 L314 1141.2 L306.2 1141.7 L298.5 1142.2 L290.8 1141.1 L283.1 1139.7 L275.4 1139.9 L267.6 1139.1 L259.9 1136.1 L252.2 1132.8 L244.4 1127.8 L236.7 1125.3 L229 1125.4 L221.3 1126.6 L213.6 1128.6 L205.8 1127.8 L198.1 1127.1 L190.4 1127.9 L182.7 1128.6 L174.9 1128.9 L167.2 1129.1 L159.5 1128.4 L151.8 1127.9 L144 1126.1 L136.3 1127.9 Z" fill="#e377c2" fill-opacity="0.5" stroke="none"/>
<path d="M136.3 1032.2 L144 1029.7 L151.8 1034 L159.5 1033.5 L167.2 1035.5 L174.9 1033 L182.7 1034 L190.4 1034 L198.1 1033.5 L205.8 1033.5 L213.6 1036.4 L221.3 1034 L229 1027.3 L236.7 1021 L244.4 1017.9 L252.2 1031.1 L259.9 1040.7 L267.6 1047.1 L275.4 1049 L283.1 1051 L290.8 1054 L298.5 1056 L306.2 1055.4 L314 1054.9 L321.7 1053.7 L329.4 1052.4 L337.1 1051.1 L344.9 1047.5 L352.6 1048 L360.3 1047.4 L368.1 1046.1 L375.8 1048.9 L383.5 1046.7 L391.2 1048 L398.9 1050.4 L406.7 1052.2 L414.4 1052.3 L422.1 1049.1 L429.9 1046.6 L437.6 1049.8 L445.3 1046.1 L453 1049.7 L460.8 1047.2 L468.5 1044.4 L476.2 1039.6 L483.9 1038.4 L491.6 1037.3 L499.4 1040.4 L507.1 1033.3 L514.8 1027.9 L522.5 1027.2 L530.3 1027.2 L539.5 1026.3 L547.2 1023.5 L555 1028.3 L562.7 1032.5 L570.4 1034.6 L578.1 1037.1 L585.8 1036 L593.6 1040.5 L601.3 1044 L609 1044.1 L616.8 1047 L624.5 1045.7 L632.2 1050.7 L639.9 1046.7 L647.6 1049 L655.4 1046.1 L663.1 1047.3 L670.8 1048.4 L678.5 1049.7 L686.3 1049.8 L694 1051 L701.7 1052.3 L709.5 1052.3 L717.2 1049.2 L724.9 1049.8 L732.6 1048.6 L740.3 1049.8 L748.1 1050.5 L755.8 1048.9 L763.5 1046.2 L771.2 1041.9 L779 1039.1 L786.7 1039.6 L794.4 1038.5 L802.2 1038.5 L809.9 1038 L817.6 1037.4 L825.3 1038.8 L833 1036.6 L840.8 1039 L848.5 1039.7 L856.2 1037.9 L864 1035.8 L871.7 1033.2 L879.4 1029.8 L887.1 1030.6 L894.8 1027.5 L902.6 1024 L910.3 1020.5 L918 1024.5 L925.8 1021.2 L933.5 1018.4 L933.5 1030.5 L925.8 1033.3 L918 1036.3 L910.3 1033.1 L902.6 1036 L894.8 1039.3 L887.1 1042 L879.4 1041.6 L871.7 1044.5 L864 1047.2 L856.2 1049.7 L848.5 1051.1 L840.8 1050.5 L833 1048.2 L825.3 1050.8 L817.6 1049.2 L809.9 1049.8 L802.2 1050.6 L794.4 1049.9 L786.7 1050.9 L779 1051.1 L771.2 1053.3 L763.5 1057 L755.8 1059.7 L748.1 1061.6 L740.3 1060.7 L732.6 1059.1 L724.9 1060.7 L717.2 1060.8 L709.5 1063.2 L701.7 1063.2 L694 1063.1 L686.3 1061.2 L678.5 1061.6 L670.8 1060.5 L663.1 1059.2 L655.4 1058.1 L647.6 1060.6 L639.9 1058.3 L632.2 1062.8 L624.5 1057.5 L616.8 1058.9 L609 1056.2 L601.3 1056.1 L593.6 1053 L585.8 1049.1 L578.1 1049.7 L570.4 1047.2 L562.7 1045.7 L555 1042.5 L547.2 1038.6 L539.5 1040.4 L530.3 1041 L522.5 1041.5 L514.8 1042.2 L507.1 1047.1 L499.4 1053.5 L491.6 1049.8 L483.9 1050.9 L476.2 1051.1 L468.5 1056.1 L460.8 1058.5 L453 1061.5 L445.3 1057.5 L437.6 1061.1 L429.9 1058.2 L422.1 1060.9 L414.4 1063.6 L406.7 1063 L398.9 1061 L391.2 1059 L383.5 1057.5 L375.8 1059 L368.1 1057.4 L360.3 1058.2 L352.6 1059.1 L344.9 1058.8 L337.1 1062 L329.4 1063.7 L321.7 1064.2 L314 1065.4 L306.2 1065.7 L298.5 1066.6 L290.8 1064.4 L283.1 1062.4 L275.4 1060.6 L267.6 1058.5 L259.9 1052.9 L252.2 1045.2 L244.4 1031.5 L236.7 1034.1 L229 1039.9 L221.3 1045.6 L213.6 1047.3 L205.8 1044 L198.1 1044.1 L190.4 1044.8 L182.7 1044 L174.9 1043.1 L167.2 1045.5 L159.5 1043.5 L151.8 1044 L144 1040.5 L136.3 1042.3 Z" fill="#7f7f7f" fill-opacity="0.5" stroke="none"/>
<path d="M136.3 1010.8 L144 1007.8 L151.8 1013.3 L159.5 1012.1 L167.2 1015.3 L174.9 1012.1 L182.7 1013.3 L190.4 1012.8 L198.1 1012.1 L205.8 1012.6 L213.6 1015.8 L221.3 1013.4 L229 1005.9 L236.7 998.9 L244.4 997 L252.2 1012.9 L259.9 1021.9 L267.6 1029 L275.4 1032.1 L283.1 1034.6 L290.8 1038.4 L298.5 1040.4 L306.2 1040.3 L314 1039.8 L321.7 1038.6 L329.4 1037.3 L337.1 1035.3 L344.9 1031.6 L352.6 1032.2 L360.3 1031 L368.1 1029.8 L375.8 1032.8 L383.5 1031.1 L391.2 1032.1 L398.9 1035.3 L406.7 1037.1 L414.4 1037.9 L422.1 1033.9 L429.9 1031 L437.6 1034.7 L445.3 1031 L453 1035.4 L460.8 1032.1 L468.5 1029.1 L476.2 1023.3 L483.9 1021.9 L491.6 1020.4 L499.4 1023.3 L507.1 1015.6 L514.8 1009.6 L522.5 1009.6 L530.3 1009.5 L539.5 1007.9 L547.2 1005.3 L555 1009.8 L562.7 1014.1 L570.4 1016.9 L578.1 1020.7 L585.8 1018.9 L593.6 1024.6 L601.3 1027.9 L609 1028 L616.8 1031.1 L624.5 1029.8 L632.2 1035.6 L639.9 1031.2 L647.6 1033.9 L655.4 1031 L663.1 1032.3 L670.8 1033.8 L678.5 1035.3 L686.3 1034.8 L694 1036.4 L701.7 1037.2 L709.5 1037.2 L717.2 1034.1 L724.9 1034 L732.6 1033 L740.3 1034.7 L748.1 1034.7 L755.8 1032.8 L763.5 1029.4 L771.2 1025.6 L779 1022.9 L786.7 1022.7 L794.4 1021.5 L802.2 1022.1 L809.9 1020.9 L817.6 1020.6 L825.3 1022.6 L833 1020.2 L840.8 1022.1 L848.5 1022.9 L856.2 1020.8 L864 1018.2 L871.7 1015.6 L879.4 1012.2 L887.1 1013 L894.8 1009.8 L902.6 1006.4 L910.3 1002.9 L918 1006.9 L925.8 1003.1 L933.5 1000.3 L933.5 1018.4 L925.8 1021.2 L918 1024.5 L910.3 1020.5 L902.6 1024 L894.8 1027.5 L887.1 1030.6 L879.4 1029.8 L871.7 1033.2 L864 1035.8 L856.2 1037.9 L848.5 1039.7 L840.8 1039 L833 1036.6 L825.3 1038.8 L817.6 1037.4 L809.9 1038 L802.2 1038.5 L794.4 1038.5 L786.7 1039.6 L779 1039.1 L771.2 1041.9 L763.5 1046.2 L755.8 1048.9 L748.1 1050.5 L740.3 1049.8 L732.6 1048.6 L724.9 1049.8 L717.2 1049.2 L709.5 1052.3 L701.7 1052.3 L694 1051 L686.3 1049.8 L678.5 1049.7 L670.8 1048.4 L663.1 1047.3 L655.4 1046.1 L647.6 1049 L639.9 1046.7 L632.2 1050.7 L624.5 1045.7 L616.8 1047 L609 1044.1 L601.3 1044 L593.6 1040.5 L585.8 1036 L578.1 1037.1 L570.4 1034.6 L562.7 1032.5 L555 1028.3 L547.2 1023.5 L539.5 1026.3 L530.3 1027.2 L522.5 1027.2 L514.8 1027.9 L507.1 1033.3 L499.4 1040.4 L491.6 1037.3 L483.9 1038.4 L476.2 1039.6 L468.5 1044.4 L460.8 1047.2 L453 1049.7 L445.3 1046.1 L437.6 1049.8 L429.9 1046.6 L422.1 1049.1 L414.4 1052.3 L406.7 1052.2 L398.9 1050.4 L391.2 1048 L383.5 1046.7 L375.8 1048.9 L368.1 1046.1 L360.3 1047.4 L352.6 1048 L344.9 1047.5 L337.1 1051.1 L329.4 1052.4 L321.7 1053.7 L314 1054.9 L306.2 1055.4 L298.5 1056 L290.8 1054 L283.1 1051 L275.4 1049 L267.6 1047.1 L259.9 1040.7 L252.2 1031.1 L244.4 1017.9 L236.7 1021 L229 1027.3 L221.3 1034 L213.6 1036.4 L205.8 1033.5 L198.1 1033.5 L190.4 1034 L182.7 1034 L174.9 1033 L167.2 1035.5 L159.5 1033.5 L151.8 1034 L144 1029.7 L136.3 1032.2 Z" fill="#bcbd22" fill-opacity="0.5" stroke="none"/>
<path d="M136.3 991.9 L144 988.7 L151.8 993.7 L159.5 993.2 L167.2 996.9 L174.9 993.2 L182.7 993.7 L190.4 993.2 L198.1 992.7 L205.8 993.7 L213.6 998.1 L221.3 995.8 L229 988.3 L236.7 980.8 L244.4 976.9 L252.2 991.5 L259.9 1002.9 L267.6 1010.1 L275.4 1013.2 L283.1 1015.8 L290.8 1018.8 L298.5 1020.8 L306.2 1021.4 L314 1020.9 L321.7 1019.7 L329.4 1018.4 L337.1 1016.7 L344.9 1013.5 L352.6 1013.8 L360.3 1013.4 L368.1 1012.1 L375.8 1014.9 L383.5 1013 L391.2 1013.8 L398.9 1016.4 L406.7 1019 L414.4 1019.6 L422.1 1016.8 L429.9 1012.9 L437.6 1017.8 L445.3 1012.1 L453 1016.2 L460.8 1012.7 L468.5 1010.8 L476.2 1005.1 L483.9 1003.6 L491.6 1002 L499.4 1005.2 L507.1 996.7 L514.8 989.4 L522.5 989.4 L530.3 989.4 L539.5 988.2 L547.2 984.5 L555 990 L562.7 995.2 L570.4 996.9 L578.1 1000.5 L585.8 1000.3 L593.6 1004.5 L601.3 1008.3 L609 1008.9 L616.8 1012.9 L624.5 1011.5 L632.2 1017.9 L639.9 1012.3 L647.6 1015.3 L655.4 1012.1 L663.1 1013.4 L670.8 1015.1 L678.5 1016.5 L686.3 1015.9 L694 1018.7 L701.7 1019.6 L709.5 1019.6 L717.2 1017.2 L724.9 1017.8 L732.6 1016.4 L740.3 1017.9 L748.1 1017.8 L755.8 1015.7 L763.5 1012.9 L771.2 1008.5 L779 1005.7 L786.7 1005 L794.4 1003.9 L802.2 1004.5 L809.9 1003.2 L817.6 1003 L825.3 1005 L833 1002.8 L840.8 1005.2 L848.5 1005.3 L856.2 1003.2 L864 1000.6 L871.7 997.4 L879.4 993.3 L887.1 994.1 L894.8 991.4 L902.6 987.4 L910.3 983.2 L918 987.5 L925.8 983.4 L933.5 980.6 L933.5 1000.3 L925.8 1003.1 L918 1006.9 L910.3 1002.9 L902.6 1006.4 L894.8 1009.8 L887.1 1013 L879.4 1012.2 L871.7 1015.6 L864 1018.2 L856.2 1020.8 L848.5 1022.9 L840.8 1022.1 L833 1020.2 L825.3 1022.6 L817.6 1020.6 L809.9 1020.9 L802.2 1022.1 L794.4 1021.5 L786.7 1022.7 L779 1022.9 L771.2 1025.6 L763.5 1029.4 L755.8 1032.8 L748.1 1034.7 L740.3 1034.7 L732.6 1033 L724.9 1034 L717.2 1034.1 L709.5 1037.2 L701.7 1037.2 L694 1036.4 L686.3 1034.8 L678.5 1035.3 L670.8 1033.8 L663.1 1032.3 L655.4 1031 L647.6 1033.9 L639.9 1031.2 L632.2 1035.6 L624.5 1029.8 L616.8 1031.1 L609 1028 L601.3 1027.9 L593.6 1024.6 L585.8 1018.9 L578.1 1020.7 L570.4 1016.9 L562.7 1014.1 L555 1009.8 L547.2 1005.3 L539.5 1007.9 L530.3 1009.5 L522.5 1009.6 L514.8 1009.6 L507.1 1015.6 L499.4 1023.3 L491.6 1020.4 L483.9 1021.9 L476.2 1023.3 L468.5 1029.1 L460.8 1032.1 L453 1035.4 L445.3 1031 L437.6 1034.7 L429.9 1031 L422.1 1033.9 L414.4 1037.9 L406.7 1037.1 L398.9 1035.3 L391.2 1032.1 L383.5 1031.1 L375.8 1032.8 L368.1 1029.8 L360.3 1031 L352.6 1032.2 L344.9 1031.6 L337.1 1035.3 L329.4 1037.3 L321.7 1038.6 L314 1039.8 L306.2 1040.3 L298.5 1040.4 L290.8 1038.4 L283.1 1034.6 L275.4 1032.1 L267.6 1029 L259.9 1021.9 L252.2 1012.9 L244.4 997 L236.7 998.9 L229 1005.9 L221.3 1013.4 L213.6 1015.8 L205.8 1012.6 L198.1 1012.1 L190.4 1012.8 L182.7 1013.3 L174.9 1012.1 L167.2 1015.3 L159.5 1012.1 L151.8 1013.3 L144 1007.8 L136.3 1010.8 Z" fill="#17becf" fill-opacity="0.5" stroke="none"/>
<path d="M136.3 977.3 L144 973.3 L151.8 978.8 L159.5 979.4 L167.2 982.6 L174.9 978.9 L182.7 980.1 L190.4 979.4 L198.1 978.9 L205.8 978.8 L213.6 983.8 L221.3 978.7 L229 970.7 L236.7 963.2 L244.4 959.3 L252.2 975.1 L259.9 986.6 L267.6 994.2 L275.4 998.1 L283.1 1001.9 L290.8 1005.6 L298.5 1008.7 L306.2 1008.3 L314 1007.8 L321.7 1006.4 L329.4 1005.3 L337.1 1003.4 L344.9 999 L352.6 999.4 L360.3 998.8 L368.1 997.1 L375.8 1000.5 L383.5 997.2 L391.2 998.6 L398.9 1001.8 L406.7 1004.4 L414.4 1004.5 L422.1 1001.3 L429.9 997.1 L437.6 1002.7 L445.3 996.3 L453 1000.6 L460.8 996.9 L468.5 994.7 L476.2 989.1 L483.9 986.7 L491.6 985.2 L499.4 988.1 L507.1 979 L514.8 970.1 L522.5 971 L530.3 971.1 L539.5 970.4 L547.2 966.4 L555 972.3 L562.7 978.7 L570.4 981 L578.1 985.9 L585.8 984.5 L593.6 990.1 L601.3 994.5 L609 995.8 L616.8 999.8 L624.5 997.9 L632.2 1005.7 L639.9 999.8 L647.6 1003.2 L655.4 999.5 L663.1 1000.8 L670.8 1003 L678.5 1004.4 L686.3 1003.4 L694 1006.1 L701.7 1007 L709.5 1006.3 L717.2 1004.6 L724.9 1005.3 L732.6 1003.8 L740.3 1005.3 L748.1 1005.2 L755.8 1003.1 L763.5 999.8 L771.2 995.3 L779 991.9 L786.7 991.7 L794.4 990.3 L802.2 991.1 L809.9 989.4 L817.6 988.9 L825.3 991 L833 988.7 L840.8 991.1 L848.5 991.9 L856.2 989.3 L864 986.7 L871.7 983.2 L879.4 978.8 L887.1 980.2 L894.8 977 L902.6 972.9 L910.3 969.4 L918 972.9 L925.8 969.1 L933.5 966.3 L933.5 980.6 L925.8 983.4 L918 987.5 L910.3 983.2 L902.6 987.4 L894.8 991.4 L887.1 994.1 L879.4 993.3 L871.7 997.4 L864 1000.6 L856.2 1003.2 L848.5 1005.3 L840.8 1005.2 L833 1002.8 L825.3 1005 L817.6 1003 L809.9 1003.2 L802.2 1004.5 L794.4 1003.9 L786.7 1005 L779 1005.7 L771.2 1008.5 L763.5 1012.9 L755.8 1015.7 L748.1 1017.8 L740.3 1017.9 L732.6 1016.4 L724.9 1017.8 L717.2 1017.2 L709.5 1019.6 L701.7 1019.6 L694 1018.7 L686.3 1015.9 L678.5 1016.5 L670.8 1015.1 L663.1 1013.4 L655.4 1012.1 L647.6 1015.3 L639.9 1012.3 L632.2 1017.9 L624.5 1011.5 L616.8 1012.9 L609 1008.9 L601.3 1008.3 L593.6 1004.5 L585.8 1000.3 L578.1 1000.5 L570.4 996.9 L562.7 995.2 L555 990 L547.2 984.5 L539.5 988.2 L530.3 989.4 L522.5 989.4 L514.8 989.4 L507.1 996.7 L499.4 1005.2 L491.6 1002 L483.9 1003.6 L476.2 1005.1 L468.5 1010.8 L460.8 1012.7 L453 1016.2 L445.3 1012.1 L437.6 1017.8 L429.9 1012.9 L422.1 1016.8 L414.4 1019.6 L406.7 1019 L398.9 1016.4 L391.2 1013.8 L383.5 1013 L375.8 1014.9 L368.1 1012.1 L360.3 1013.4 L352.6 1013.8 L344.9 1013.5 L337.1 1016.7 L329.4 1018.4 L321.7 1019.7 L314 1020.9 L306.2 1021.4 L298.5 1020.8 L290.8 1018.8 L283.1 1015.8 L275.4 1013.2 L267.6 1010.1 L259.9 1002.9 L252.2 991.5 L244.4 976.9 L236.7 980.8 L229 988.3 L221.3 995.8 L213.6 998.1 L205.8 993.7 L198.1 992.7 L190.4 993.2 L182.7 993.7 L174.9 993.2 L167.2 996.9 L159.5 993.2 L151.8 993.7 L144 988.7 L136.3 991.9 Z" fill="#1f77b4" fill-opacity="0.5" stroke="none"/>
<path d="M136.3 976.8 L144 972.6 L151.8 978.1 L159.5 978.6 L167.2 981.8 L174.9 978.1 L182.7 979.3 L190.4 978.6 L198.1 978.1 L205.8 978.1 L213.6 983 L221.3 978.2 L229 949.8 L236.7 904.9 L244.4 864.9 L252.2 873.6 L259.9 893.4 L267.6 918.2 L275.4 936 L283.1 952.3 L290.8 967.5 L298.5 976.5 L306.2 982.9 L314 986 L321.7 986.1 L329.4 984.5 L337.1 976 L344.9 966 L352.6 958.4 L360.3 952.7 L368.1 950.5 L375.8 955.6 L383.5 956.7 L391.2 962.6 L398.9 970.1 L406.7 977.6 L414.4 979.3 L422.1 977.7 L429.9 974.4 L437.6 979.3 L445.3 970.1 L453 972.3 L460.8 965.1 L468.5 956.9 L476.2 939 L483.9 925.5 L491.6 907.8 L499.4 889.8 L507.1 873.2 L514.8 853.3 L522.5 845.8 L530.3 840.1 L539.5 827.7 L547.2 825 L555 845.8 L562.7 869 L570.4 889.9 L578.1 910.2 L585.8 927.2 L593.6 943.9 L601.3 958 L609 967 L616.8 975.2 L624.5 975.2 L632.2 984.5 L639.9 977.2 L647.6 980.5 L655.4 975.6 L663.1 978.7 L670.8 982.7 L678.5 985.4 L686.3 986.8 L694 992.9 L701.7 995.7 L709.5 998.2 L717.2 995.4 L724.9 996.9 L732.6 995.7 L740.3 997.7 L748.1 994.2 L755.8 988.7 L763.5 976.3 L771.2 955.9 L779 936.9 L786.7 920.7 L794.4 909 L802.2 903.1 L809.9 902.2 L817.6 904.4 L825.3 910.8 L833 917.4 L840.8 928.9 L848.5 937.3 L856.2 940.4 L864 943.4 L871.7 943.7 L879.4 939.3 L887.1 940.4 L894.8 933.8 L902.6 923.8 L910.3 915.2 L918 917 L925.8 912.2 L933.5 905.1 L933.5 966.3 L925.8 969.1 L918 972.9 L910.3 969.4 L902.6 972.9 L894.8 977 L887.1 980.2 L879.4 978.8 L871.7 983.2 L864 986.7 L856.2 989.3 L848.5 991.9 L840.8 991.1 L833 988.7 L825.3 991 L817.6 988.9 L809.9 989.4 L802.2 991.1 L794.4 990.3 L786.7 991.7 L779 991.9 L771.2 995.3 L763.5 999.8 L755.8 1003.1 L748.1 1005.2 L740.3 1005.3 L732.6 1003.8 L724.9 1005.3 L717.2 1004.6 L709.5 1006.3 L701.7 1007 L694 1006.1 L686.3 1003.4 L678.5 1004.4 L670.8 1003 L663.1 1000.8 L655.4 999.5 L647.6 1003.2 L639.9 999.8 L632.2 1005.7 L624.5 997.9 L616.8 999.8 L609 995.8 L601.3 994.5 L593.6 990.1 L585.8 984.5 L578.1 985.9 L570.4 981 L562.7 978.7 L555 972.3 L547.2 966.4 L539.5 970.4 L530.3 971.1 L522.5 971 L514.8 970.1 L507.1 979 L499.4 988.1 L491.6 985.2 L483.9 986.7 L476.2 989.1 L468.5 994.7 L460.8 996.9 L453 1000.6 L445.3 996.3 L437.6 1002.7 L429.9 997.1 L422.1 1001.3 L414.4 1004.5 L406.7 1004.4 L398.9 1001.8 L391.2 998.6 L383.5 997.2 L375.8 1000.5 L368.1 997.1 L360.3 998.8 L352.6 999.4 L344.9 999 L337.1 1003.4 L329.4 1005.3 L321.7 1006.4 L314 1007.8 L306.2 1008.3 L298.5 1008.7 L290.8 1005.6 L283.1 1001.9 L275.4 998.1 L267.6 994.2 L259.9 986.6 L252.2 975.1 L244.4 959.3 L236.7 963.2 L229 970.7 L221.3 978.7 L213.6 983.8 L205.8 978.8 L198.1 978.9 L190.4 979.4 L182.7 980.1 L174.9 978.9 L167.2 982.6 L159.5 979.4 L151.8 978.8 L144 973.3 L136.3 977.3 Z" fill="#ff7f0e" fill-opacity="0.5" stroke="none"/>
<path d="M136.3 1223.4 L144 1223.4 L151.8 1223.4 L159.5 1223.4 L167.2 1223.4 L174.9 1223.4 L182.7 1223.4 L190.4 1223.4 L198.1 1223.4 L205.8 1223.4 L213.6 1223.4 L221.3 1223.4 L229 1223.4 L236.7 1223.4 L244.4 1223.4 L252.2 1223.5 L259.9 1223.6 L267.6 1223.7 L275.4 1223.8 L283.1 1223.9 L290.8 1224 L298.5 1224.1 L306.2 1224.2 L314 1224.2 L321.7 1224.1 L329.4 1224.1 L337.1 1224.1 L344.9 1224.1 L352.6 1224.1 L360.3 1224.1 L368.1 1224 L375.8 1224 L383.5 1224 L391.2 1224 L398.9 1224 L406.7 1224 L414.4 1223.9 L422.1 1223.9 L429.9 1223.9 L437.6 1223.9 L445.3 1223.8 L453 1223.8 L460.8 1223.8 L468.5 1223.8 L476.2 1223.7 L483.9 1223.7 L491.6 1223.7 L499.4 1223.6 L507.1 1223.6 L514.8 1223.6 L522.5 1223.5 L530.3 1223.5 L539.5 1223.5 L547.2 1223.4 L555 1223.2 L562.7 1223.1 L570.4 1222.9 L578.1 1222.8 L585.8 1222.6 L593.6 1222.4 L601.3 1222.3 L609 1222.5 L616.8 1222.6 L624.5 1222.7 L632.2 1222.9 L639.9 1223 L647.6 1222.9 L655.4 1222.9 L663.1 1222.9 L670.8 1222.8 L678.5 1222.8 L686.3 1222.8 L694 1222.6 L701.7 1222.5 L709.5 1222.4 L717.2 1222.2 L724.9 1222.1 L732.6 1222 L740.3 1221.8 L748.1 1221.6 L755.8 1221.3 L763.5 1221.1 L771.2 1220.9 L779 1220.6 L786.7 1220.3 L794.4 1220 L802.2 1219.7 L809.9 1219.4 L817.6 1219.1 L825.3 1218.6 L833 1218.1 L840.8 1217.6 L848.5 1217.1 L856.2 1216.6 L864 1215.9 L871.7 1215 L879.4 1214.1 L887.1 1213.2 L894.8 1212.2 L902.6 1211.3 L910.3 1210.3 L918 1209 L925.8 1207.7 L933.5 1206.3" fill="none" stroke="#1f77b4" stroke-width="2" stroke-linejoin="round"/>
<path d="M136.3 1219.6 L144 1219.6 L151.8 1219.6 L159.5 1219.6 L167.2 1219.6 L174.9 1219.6 L182.7 1219.6 L190.4 1219.6 L198.1 1219.6 L205.8 1219.5 L213.6 1219.4 L221.3 1219.2 L229 1219 L236.7 1218.9 L244.4 1218.9 L252.2 1219 L259.9 1219.2 L267.6 1219.4 L275.4 1219.6 L283.1 1219.8 L290.8 1220 L298.5 1220.2 L306.2 1220.4 L314 1220.4 L321.7 1220.4 L329.4 1220.4 L337.1 1220.4 L344.9 1220.4 L352.6 1220.4 L360.3 1220.4 L368.1 1220.4 L375.8 1220.4 L383.5 1220.4 L391.2 1220.4 L398.9 1220.4 L406.7 1220.4 L414.4 1220.4 L422.1 1220.4 L429.9 1220.2 L437.6 1220.1 L445.3 1219.9 L453 1219.8 L460.8 1219.7 L468.5 1219.5 L476.2 1219.4 L483.9 1219.3 L491.6 1219.1 L499.4 1219 L507.1 1218.9 L514.8 1218.8 L522.5 1218.7 L530.3 1218.6 L539.5 1218.5 L547.2 1218.4 L555 1218.4 L562.7 1218.4 L570.4 1218.4 L578.1 1218.4 L585.8 1218.4 L593.6 1218.4 L601.3 1218.4 L609 1218.5 L616.8 1218.7 L624.5 1218.8 L632.2 1219 L639.9 1219 L647.6 1219 L655.4 1219 L663.1 1219 L670.8 1219 L678.5 1219 L686.3 1219 L694 1218.9 L701.7 1218.8 L709.5 1218.7 L717.2 1218.6 L724.9 1218.5 L732.6 1218.4 L740.3 1218.3 L748.1 1217.9 L755.8 1217.6 L763.5 1217.3 L771.2 1217 L779 1216.6 L786.7 1216.2 L794.4 1215.9 L802.2 1215.5 L809.9 1215.1 L817.6 1214.7 L825.3 1214.1 L833 1213.5 L840.8 1212.9 L848.5 1212.3 L856.2 1211.7 L864 1210.9 L871.7 1210 L879.4 1209.1 L887.1 1208.2 L894.8 1207.1 L902.6 1206.1 L910.3 1205.1 L918 1203.7 L925.8 1202.2 L933.5 1200.8" fill="none" stroke="#ff7f0e" stroke-width="2" stroke-linejoin="round"/>
<path d="M136.3 1213.9 L144 1213.9 L151.8 1213.9 L159.5 1214 L167.2 1214 L174.9 1214 L182.7 1214 L190.4 1214.1 L198.1 1214.1 L205.8 1213.9 L213.6 1213.6 L221.3 1213.3 L229 1213.1 L236.7 1212.9 L244.4 1213 L252.2 1213.2 L259.9 1213.6 L267.6 1214 L275.4 1214.4 L283.1 1214.7 L290.8 1215.1 L298.5 1215.5 L306.2 1215.9 L314 1215.9 L321.7 1215.9 L329.4 1215.9 L337.1 1215.9 L344.9 1215.9 L352.6 1215.9 L360.3 1215.9 L368.1 1215.9 L375.8 1215.9 L383.5 1215.9 L391.2 1215.9 L398.9 1215.9 L406.7 1215.9 L414.4 1215.9 L422.1 1215.8 L429.9 1215.7 L437.6 1215.5 L445.3 1215.3 L453 1215.2 L460.8 1215 L468.5 1214.8 L476.2 1214.7 L483.9 1214.5 L491.6 1214.3 L499.4 1214.2 L507.1 1214.1 L514.8 1213.9 L522.5 1213.8 L530.3 1213.6 L539.5 1213.5 L547.2 1213.4 L555 1213.6 L562.7 1213.8 L570.4 1214 L578.1 1214.1 L585.8 1214.3 L593.6 1214.5 L601.3 1214.7 L609 1214.8 L616.8 1215 L624.5 1215.1 L632.2 1215.3 L639.9 1215.3 L647.6 1215.3 L655.4 1215.3 L663.1 1215.2 L670.8 1215.2 L678.5 1215.2 L686.3 1215.1 L694 1215 L701.7 1214.8 L709.5 1214.6 L717.2 1214.5 L724.9 1214.3 L732.6 1214.1 L740.3 1213.9 L748.1 1213.7 L755.8 1213.5 L763.5 1213.3 L771.2 1213 L779 1212.7 L786.7 1212.3 L794.4 1211.9 L802.2 1211.6 L809.9 1211.2 L817.6 1210.8 L825.3 1210.1 L833 1209.4 L840.8 1208.7 L848.5 1208 L856.2 1207.3 L864 1206.6 L871.7 1205.9 L879.4 1205.2 L887.1 1204.4 L894.8 1203.2 L902.6 1202 L910.3 1200.7 L918 1199.2 L925.8 1197.5 L933.5 1195.8" fill="none" stroke="#2ca02c" stroke-width="2" stroke-linejoin="round"/>
<path d="M136.3 1207.8 L144 1207.9 L151.8 1207.9 L159.5 1208 L167.2 1208.1 L174.9 1208.1 L182.7 1208.2 L190.4 1208.2 L198.1 1208.3 L205.8 1208 L213.6 1207.6 L221.3 1207.3 L229 1206.9 L236.7 1206.6 L244.4 1206.9 L252.2 1207.2 L259.9 1207.8 L267.6 1208.4 L275.4 1209 L283.1 1209.6 L290.8 1210.2 L298.5 1210.8 L306.2 1211.4 L314 1211.4 L321.7 1211.4 L329.4 1211.4 L337.1 1211.4 L344.9 1211.4 L352.6 1211.4 L360.3 1211.4 L368.1 1211.4 L375.8 1211.4 L383.5 1211.4 L391.2 1211.4 L398.9 1211.4 L406.7 1211.4 L414.4 1211.4 L422.1 1211.3 L429.9 1211 L437.6 1210.7 L445.3 1210.4 L453 1210.2 L460.8 1209.9 L468.5 1209.6 L476.2 1209.3 L483.9 1209 L491.6 1208.8 L499.4 1208.5 L507.1 1208.3 L514.8 1208 L522.5 1207.8 L530.3 1207.6 L539.5 1207.3 L547.2 1207.1 L555 1207.4 L562.7 1207.7 L570.4 1208 L578.1 1208.4 L585.8 1208.7 L593.6 1209 L601.3 1209.3 L609 1209.5 L616.8 1209.7 L624.5 1209.9 L632.2 1210.2 L639.9 1210.3 L647.6 1210.2 L655.4 1210.2 L663.1 1210.1 L670.8 1210 L678.5 1210 L686.3 1209.9 L694 1209.7 L701.7 1209.5 L709.5 1209.3 L717.2 1209.1 L724.9 1208.9 L732.6 1208.7 L740.3 1208.4 L748.1 1208.1 L755.8 1207.8 L763.5 1207.5 L771.2 1207.2 L779 1206.8 L786.7 1206.4 L794.4 1206 L802.2 1205.7 L809.9 1205.3 L817.6 1204.9 L825.3 1204.3 L833 1203.7 L840.8 1203.1 L848.5 1202.5 L856.2 1201.9 L864 1201.1 L871.7 1200.3 L879.4 1199.5 L887.1 1198.6 L894.8 1197.3 L902.6 1196.1 L910.3 1194.8 L918 1193.1 L925.8 1191.3 L933.5 1189.4" fill="none" stroke="#d62728" stroke-width="2" stroke-linejoin="round"/>
<path d="M136.3 1138.7 L144 1135.4 L151.8 1137.9 L159.5 1138.2 L167.2 1138.7 L174.9 1138.2 L182.7 1137.9 L190.4 1137.2 L198.1 1136.7 L205.8 1137.7 L213.6 1138.7 L221.3 1137.2 L229 1135.4 L236.7 1136.1 L244.4 1137.1 L252.2 1140.4 L259.9 1142.4 L267.6 1143.2 L275.4 1143.7 L283.1 1143.7 L290.8 1143.7 L298.5 1144.7 L306.2 1143.8 L314 1143.2 L321.7 1143 L329.4 1142.2 L337.1 1141.7 L344.9 1141.2 L352.6 1141 L360.3 1140.5 L368.1 1139.7 L375.8 1139.4 L383.5 1139.2 L391.2 1139.8 L398.9 1141.2 L406.7 1142.7 L414.4 1143.7 L422.1 1139.4 L429.9 1138.6 L437.6 1139.4 L445.3 1138 L453 1139.9 L460.8 1139.8 L468.5 1139.8 L476.2 1138.3 L483.9 1137.8 L491.6 1137.2 L499.4 1139.1 L507.1 1137.4 L514.8 1133.7 L522.5 1135.8 L530.3 1136.5 L539.5 1135.7 L547.2 1132.3 L555 1135.7 L562.7 1137.3 L570.4 1138 L578.1 1138.6 L585.8 1138.1 L593.6 1139.3 L601.3 1139.9 L609 1139.5 L616.8 1139.9 L624.5 1140.2 L632.2 1142.7 L639.9 1140.7 L647.6 1140.6 L655.4 1139.3 L663.1 1139.8 L670.8 1140.5 L678.5 1140 L686.3 1139 L694 1141.3 L701.7 1141.5 L709.5 1141.5 L717.2 1141.5 L724.9 1140.4 L732.6 1139.6 L740.3 1139.8 L748.1 1140.1 L755.8 1139.6 L763.5 1138.3 L771.2 1136.5 L779 1134.2 L786.7 1135 L794.4 1135.2 L802.2 1135.2 L809.9 1134.4 L817.6 1132.1 L825.3 1133.8 L833 1131.1 L840.8 1133.8 L848.5 1133.2 L856.2 1132 L864 1130.4 L871.7 1128.9 L879.4 1128 L887.1 1128.1 L894.8 1126 L902.6 1123.4 L910.3 1122 L918 1124.9 L925.8 1122.8 L933.5 1119.7" fill="none" stroke="#9467bd" stroke-width="2" stroke-linejoin="round"/>
<path d="M136.3 1127.9 L144 1126.1 L151.8 1127.9 L159.5 1128.4 L167.2 1129.1 L174.9 1128.9 L182.7 1128.6 L190.4 1127.9 L198.1 1127.1 L205.8 1127.8 L213.6 1128.6 L221.3 1126.6 L229 1125.4 L236.7 1125.3 L244.4 1127.8 L252.2 1132.8 L259.9 1136.1 L267.6 1139.1 L275.4 1139.9 L283.1 1139.7 L290.8 1141.1 L298.5 1142.2 L306.2 1141.7 L314 1141.2 L321.7 1140.5 L329.4 1139.7 L337.1 1139.2 L344.9 1138.7 L352.6 1138 L360.3 1137.2 L368.1 1136.7 L375.8 1135.7 L383.5 1134.9 L391.2 1136.2 L398.9 1137.9 L406.7 1139.2 L414.4 1139.9 L422.1 1135.2 L429.9 1134.4 L437.6 1135.3 L445.3 1134 L453 1135.8 L460.8 1135.7 L468.5 1135.5 L476.2 1133.9 L483.9 1133.3 L491.6 1132.7 L499.4 1134.6 L507.1 1132.9 L514.8 1129.4 L522.5 1131.3 L530.3 1132 L539.5 1131.1 L547.2 1127.6 L555 1131.2 L562.7 1132.5 L570.4 1133 L578.1 1133.7 L585.8 1133.4 L593.6 1134.7 L601.3 1135.4 L609 1135.1 L616.8 1135.6 L624.5 1135.6 L632.2 1137.7 L639.9 1135.9 L647.6 1136.1 L655.4 1135 L663.1 1135.5 L670.8 1136.3 L678.5 1135.6 L686.3 1134.5 L694 1136.3 L701.7 1136.5 L709.5 1136.5 L717.2 1137.5 L724.9 1136.1 L732.6 1135.3 L740.3 1135.5 L748.1 1135.7 L755.8 1135 L763.5 1133.9 L771.2 1132.2 L779 1129.9 L786.7 1130.7 L794.4 1130.9 L802.2 1130.9 L809.9 1130.1 L817.6 1127.8 L825.3 1129.3 L833 1126.5 L840.8 1129.3 L848.5 1128.7 L856.2 1127.5 L864 1125.9 L871.7 1124.4 L879.4 1123.2 L887.1 1123 L894.8 1120.7 L902.6 1118 L910.3 1116.9 L918 1119.8 L925.8 1117.1 L933.5 1113.9" fill="none" stroke="#8c564b" stroke-width="2" stroke-linejoin="round"/>
<path d="M136.3 1042.3 L144 1040.5 L151.8 1044 L159.5 1043.5 L167.2 1045.5 L174.9 1043.1 L182.7 1044 L190.4 1044.8 L198.1 1044.1 L205.8 1044 L213.6 1047.3 L221.3 1045.6 L229 1039.9 L236.7 1034.1 L244.4 1031.5 L252.2 1045.2 L259.9 1052.9 L267.6 1058.5 L275.4 1060.6 L283.1 1062.4 L290.8 1064.4 L298.5 1066.6 L306.2 1065.7 L314 1065.4 L321.7 1064.2 L329.4 1063.7 L337.1 1062 L344.9 1058.8 L352.6 1059.1 L360.3 1058.2 L368.1 1057.4 L375.8 1059 L383.5 1057.5 L391.2 1059 L398.9 1061 L406.7 1063 L414.4 1063.6 L422.1 1060.9 L429.9 1058.2 L437.6 1061.1 L445.3 1057.5 L453 1061.5 L460.8 1058.5 L468.5 1056.1 L476.2 1051.1 L483.9 1050.9 L491.6 1049.8 L499.4 1053.5 L507.1 1047.1 L514.8 1042.2 L522.5 1041.5 L530.3 1041 L539.5 1040.4 L547.2 1038.6 L555 1042.5 L562.7 1045.7 L570.4 1047.2 L578.1 1049.7 L585.8 1049.1 L593.6 1053 L601.3 1056.1 L609 1056.2 L616.8 1058.9 L624.5 1057.5 L632.2 1062.8 L639.9 1058.3 L647.6 1060.6 L655.4 1058.1 L663.1 1059.2 L670.8 1060.5 L678.5 1061.6 L686.3 1061.2 L694 1063.1 L701.7 1063.2 L709.5 1063.2 L717.2 1060.8 L724.9 1060.7 L732.6 1059.1 L740.3 1060.7 L748.1 1061.6 L755.8 1059.7 L763.5 1057 L771.2 1053.3 L779 1051.1 L786.7 1050.9 L794.4 1049.9 L802.2 1050.6 L809.9 1049.8 L817.6 1049.2 L825.3 1050.8 L833 1048.2 L840.8 1050.5 L848.5 1051.1 L856.2 1049.7 L864 1047.2 L871.7 1044.5 L879.4 1041.6 L887.1 1042 L894.8 1039.3 L902.6 1036 L910.3 1033.1 L918 1036.3 L925.8 1033.3 L933.5 1030.5" fill="none" stroke="#e377c2" stroke-width="2" stroke-linejoin="round"/>
<path d="M136.3 1032.2 L144 1029.7 L151.8 1034 L159.5 1033.5 L167.2 1035.5 L174.9 1033 L182.7 1034 L190.4 1034 L198.1 1033.5 L205.8 1033.5 L213.6 1036.4 L221.3 1034 L229 1027.3 L236.7 1021 L244.4 1017.9 L252.2 1031.1 L259.9 1040.7 L267.6 1047.1 L275.4 1049 L283.1 1051 L290.8 1054 L298.5 1056 L306.2 1055.4 L314 1054.9 L321.7 1053.7 L329.4 1052.4 L337.1 1051.1 L344.9 1047.5 L352.6 1048 L360.3 1047.4 L368.1 1046.1 L375.8 1048.9 L383.5 1046.7 L391.2 1048 L398.9 1050.4 L406.7 1052.2 L414.4 1052.3 L422.1 1049.1 L429.9 1046.6 L437.6 1049.8 L445.3 1046.1 L453 1049.7 L460.8 1047.2 L468.5 1044.4 L476.2 1039.6 L483.9 1038.4 L491.6 1037.3 L499.4 1040.4 L507.1 1033.3 L514.8 1027.9 L522.5 1027.2 L530.3 1027.2 L539.5 1026.3 L547.2 1023.5 L555 1028.3 L562.7 1032.5 L570.4 1034.6 L578.1 1037.1 L585.8 1036 L593.6 1040.5 L601.3 1044 L609 1044.1 L616.8 1047 L624.5 1045.7 L632.2 1050.7 L639.9 1046.7 L647.6 1049 L655.4 1046.1 L663.1 1047.3 L670.8 1048.4 L678.5 1049.7 L686.3 1049.8 L694 1051 L701.7 1052.3 L709.5 1052.3 L717.2 1049.2 L724.9 1049.8 L732.6 1048.6 L740.3 1049.8 L748.1 1050.5 L755.8 1048.9 L763.5 1046.2 L771.2 1041.9 L779 1039.1 L786.7 1039.6 L794.4 1038.5 L802.2 1038.5 L809.9 1038 L817.6 1037.4 L825.3 1038.8 L833 1036.6 L840.8 1039 L848.5 1039.7 L856.2 1037.9 L864 1035.8 L871.7 1033.2 L879.4 1029.8 L887.1 1030.6 L894.8 1027.5 L902.6 1024 L910.3 1020.5 L918 1024.5 L925.8 1021.2 L933.5 1018.4" fill="none" stroke="#7f7f7f" stroke-width="2" stroke-linejoin="round"/>
<path d="M136.3 1010.8 L144 1007.8 L151.8 1013.3 L159.5 1012.1 L167.2 1015.3 L174.9 1012.1 L182.7 1013.3 L190.4 1012.8 L198.1 1012.1 L205.8 1012.6 L213.6 1015.8 L221.3 1013.4 L229 1005.9 L236.7 998.9 L244.4 997 L252.2 1012.9 L259.9 1021.9 L267.6 1029 L275.4 1032.1 L283.1 1034.6 L290.8 1038.4 L298.5 1040.4 L306.2 1040.3 L314 1039.8 L321.7 1038.6 L329.4 1037.3 L337.1 1035.3 L344.9 1031.6 L352.6 1032.2 L360.3 1031 L368.1 1029.8 L375.8 1032.8 L383.5 1031.1 L391.2 1032.1 L398.9 1035.3 L406.7 1037.1 L414.4 1037.9 L422.1 1033.9 L429.9 1031 L437.6 1034.7 L445.3 1031 L453 1035.4 L460.8 1032.1 L468.5 1029.1 L476.2 1023.3 L483.9 1021.9 L491.6 1020.4 L499.4 1023.3 L507.1 1015.6 L514.8 1009.6 L522.5 1009.6 L530.3 1009.5 L539.5 1007.9 L547.2 1005.3 L555 1009.8 L562.7 1014.1 L570.4 1016.9 L578.1 1020.7 L585.8 1018.9 L593.6 1024.6 L601.3 1027.9 L609 1028 L616.8 1031.1 L624.5 1029.8 L632.2 1035.6 L639.9 1031.2 L647.6 1033.9 L655.4 1031 L663.1 1032.3 L670.8 1033.8 L678.5 1035.3 L686.3 1034.8 L694 1036.4 L701.7 1037.2 L709.5 1037.2 L717.2 1034.1 L724.9 1034 L732.6 1033 L740.3 1034.7 L748.1 1034.7 L755.8 1032.8 L763.5 1029.4 L771.2 1025.6 L779 1022.9 L786.7 1022.7 L794.4 1021.5 L802.2 1022.1 L809.9 1020.9 L817.6 1020.6 L825.3 1022.6 L833 1020.2 L840.8 1022.1 L848.5 1022.9 L856.2 1020.8 L864 1018.2 L871.7 1015.6 L879.4 1012.2 L887.1 1013 L894.8 1009.8 L902.6 1006.4 L910.3 1002.9 L918 1006.9 L925.8 1003.1 L933.5 1000.3" fill="none" stroke="#bcbd22" stroke-width="2" stroke-linejoin="round"/>
<path d="M136.3 991.9 L144 988.7 L151.8 993.7 L159.5 993.2 L167.2 996.9 L174.9 993.2 L182.7 993.7 L190.4 993.2 L198.1 992.7 L205.8 993.7 L213.6 998.1 L221.3 995.8 L229 988.3 L236.7 980.8 L244.4 976.9 L252.2 991.5 L259.9 1002.9 L267.6 1010.1 L275.4 1013.2 L283.1 1015.8 L290.8 1018.8 L298.5 1020.8 L306.2 1021.4 L314 1020.9 L321.7 1019.7 L329.4 1018.4 L337.1 1016.7 L344.9 1013.5 L352.6 1013.8 L360.3 1013.4 L368.1 1012.1 L375.8 1014.9 L383.5 1013 L391.2 1013.8 L398.9 1016.4 L406.7 1019 L414.4 1019.6 L422.1 1016.8 L429.9 1012.9 L437.6 1017.8 L445.3 1012.1 L453 1016.2 L460.8 1012.7 L468.5 1010.8 L476.2 1005.1 L483.9 1003.6 L491.6 1002 L499.4 1005.2 L507.1 996.7 L514.8 989.4 L522.5 989.4 L530.3 989.4 L539.5 988.2 L547.2 984.5 L555 990 L562.7 995.2 L570.4 996.9 L578.1 1000.5 L585.8 1000.3 L593.6 1004.5 L601.3 1008.3 L609 1008.9 L616.8 1012.9 L624.5 1011.5 L632.2 1017.9 L639.9 1012.3 L647.6 1015.3 L655.4 1012.1 L663.1 1013.4 L670.8 1015.1 L678.5 1016.5 L686.3 1015.9 L694 1018.7 L701.7 1019.6 L709.5 1019.6 L717.2 1017.2 L724.9 1017.8 L732.6 1016.4 L740.3 1017.9 L748.1 1017.8 L755.8 1015.7 L763.5 1012.9 L771.2 1008.5 L779 1005.7 L786.7 1005 L794.4 1003.9 L802.2 1004.5 L809.9 1003.2 L817.6 1003 L825.3 1005 L833 1002.8 L840.8 1005.2 L848.5 1005.3 L856.2 1003.2 L864 1000.6 L871.7 997.4 L879.4 993.3 L887.1 994.1 L894.8 991.4 L902.6 987.4 L910.3 983.2 L918 987.5 L925.8 983.4 L933.5 980.6" fill="none" stroke="#17becf" stroke-width="2" stroke-linejoin="round"/>
<path d="M136.3 977.3 L144 973.3 L151.8 978.8 L159.5 979.4 L167.2 982.6 L174.9 978.9 L182.7 980.1 L190.4 979.4 L198.1 978.9 L205.8 978.8 L213.6 983.8 L221.3 978.7 L229 970.7 L236.7 963.2 L244.4 959.3 L252.2 975.1 L259.9 986.6 L267.6 994.2 L275.4 998.1 L283.1 1001.9 L290.8 1005.6 L298.5 1008.7 L306.2 1008.3 L314 1007.8 L321.7 1006.4 L329.4 1005.3 L337.1 1003.4 L344.9 999 L352.6 999.4 L360.3 998.8 L368.1 997.1 L375.8 1000.5 L383.5 997.2 L391.2 998.6 L398.9 1001.8 L406.7 1004.4 L414.4 1004.5 L422.1 1001.3 L429.9 997.1 L437.6 1002.7 L445.3 996.3 L453 1000.6 L460.8 996.9 L468.5 994.7 L476.2 989.1 L483.9 986.7 L491.6 985.2 L499.4 988.1 L507.1 979 L514.8 970.1 L522.5 971 L530.3 971.1 L539.5 970.4 L547.2 966.4 L555 972.3 L562.7 978.7 L570.4 981 L578.1 985.9 L585.8 984.5 L593.6 990.1 L601.3 994.5 L609 995.8 L616.8 999.8 L624.5 997.9 L632.2 1005.7 L639.9 999.8 L647.6 1003.2 L655.4 999.5 L663.1 1000.8 L670.8 1003 L678.5 1004.4 L686.3 1003.4 L694 1006.1 L701.7 1007 L709.5 1006.3 L717.2 1004.6 L724.9 1005.3 L732.6 1003.8 L740.3 1005.3 L748.1 1005.2 L755.8 1003.1 L763.5 999.8 L771.2 995.3 L779 991.9 L786.7 991.7 L794.4 990.3 L802.2 991.1 L809.9 989.4 L817.6 988.9 L825.3 991 L833 988.7 L840.8 991.1 L848.5 991.9 L856.2 989.3 L864 986.7 L871.7 983.2 L879.4 978.8 L887.1 980.2 L894.8 977 L902.6 972.9 L910.3 969.4 L918 972.9 L925.8 969.1 L933.5 966.3" fill="none" stroke="#1f77b4" stroke-width="2" stroke-linejoin="round"/>
<path d="M136.3 976.8 L144 972.6 L151.8 978.1 L159.5 978.6 L167.2 981.8 L174.9 978.1 L182.7 979.3 L190.4 978.6 L198.1 978.1 L205.8 978.1 L213.6 983 L221.3 978.2 L229 949.8 L236.7 904.9 L244.4 864.9 L252.2 873.6 L259.9 893.4 L267.6 918.2 L275.4 936 L283.1 952.3 L290.8 967.5 L298.5 976.5 L306.2 982.9 L314 986 L321.7 986.1 L329.4 984.5 L337.1 976 L344.9 966 L352.6 958.4 L360.3 952.7 L368.1 950.5 L375.8 955.6 L383.5 956.7 L391.2 962.6 L398.9 970.1 L406.7 977.6 L414.4 979.3 L422.1 977.7 L429.9 974.4 L437.6 979.3 L445.3 970.1 L453 972.3 L460.8 965.1 L468.5 956.9 L476.2 939 L483.9 925.5 L491.6 907.8 L499.4 889.8 L507.1 873.2 L514.8 853.3 L522.5 845.8 L530.3 840.1 L539.5 827.7 L547.2 825 L555 845.8 L562.7 869 L570.4 889.9 L578.1 910.2 L585.8 927.2 L593.6 943.9 L601.3 958 L609 967 L616.8 975.2 L624.5 975.2 L632.2 984.5 L639.9 977.2 L647.6 980.5 L655.4 975.6 L663.1 978.7 L670.8 982.7 L678.5 985.4 L686.3 986.8 L694 992.9 L701.7 995.7 L709.5 998.2 L717.2 995.4 L724.9 996.9 L732.6 995.7 L740.3 997.7 L748.1 994.2 L755.8 988.7 L763.5 976.3 L771.2 955.9 L779 936.9 L786.7 920.7 L794.4 909 L802.2 903.1 L809.9 902.2 L817.6 904.4 L825.3 910.8 L833 917.4 L840.8 928.9 L848.5 937.3 L856.2 940.4 L864 943.4 L871.7 943.7 L879.4 939.3 L887.1 940.4 L894.8 933.8 L902.6 923.8 L910.3 915.2 L918 917 L925.8 912.2 L933.5 905.1" fill="none" stroke="#ff7f0e" stroke-width="2" stroke-linejoin="round"/>
<path d="M136.3 823.8 L144 817.8 L151.8 833.1 L159.5 844.1 L167.2 856.1 L174.9 857.1 L182.7 864.4 L190.4 871.8 L198.1 878.7 L205.8 879.2 L213.6 883.8 L221.3 885.7 L229 891.2 L236.7 892.1 L244.4 893.1 L252.2 899.5 L259.9 902.3 L267.6 900.4 L275.4 908.7 L283.1 909.7 L290.8 913.4 L298.5 916.1 L306.2 912.4 L314 915.6 L321.7 917.1 L329.4 918 L337.1 915.2 L344.9 918 L352.6 920.4 L360.3 921.3 L368.1 920.7 L375.8 918 L383.5 920.7 L391.2 922.2 L398.9 920.4 L406.7 917.1 L414.4 915.2 L422.1 915.2 L429.9 913.4 L437.6 910.6 L445.3 907.5 L453 904.1 L460.8 901.4 L468.5 904.1 L476.2 903.2 L483.9 895.8 L491.6 894.5 L499.4 894 L507.1 889.4 L514.8 883.8 L522.5 870.9 L530.3 846.9 L539.5 824.8 L547.2 817.8 L555 834 L562.7 849.7 L570.4 858 L578.1 857.1 L585.8 865.4 L593.6 873.7 L601.3 878.7 L609 882.4 L616.8 882.9 L624.5 882 L632.2 889.4 L639.9 891.2 L647.6 893.1 L655.4 900.4 L663.1 902.3 L670.8 906 L678.5 910.6 L686.3 914.3 L694 914.3 L701.7 915.6 L709.5 912.4 L717.2 916.7 L724.9 917.4 L732.6 918 L740.3 915.6 L748.1 918.9 L755.8 920.7 L763.5 921.7 L771.2 920.7 L779 918 L786.7 920.7 L794.4 922.6 L802.2 920.4 L809.9 916.7 L817.6 913.4 L825.3 914.3 L833 911.1 L840.8 910.6 L848.5 906.9 L856.2 903.2 L864 900.8 L871.7 903.2 L879.4 902.3 L887.1 895.3 L894.8 894 L902.6 893.1 L910.3 888.4 L918 881.1 L925.8 868.1 L933.5 857.1 L933.5 905.6 L925.8 904.1 L918 908.2 L910.3 900.8 L902.6 910.6 L894.8 913 L887.1 912.4 L879.4 917.1 L871.7 916.1 L864 918.9 L856.2 917.1 L848.5 921.7 L840.8 916.1 L833 928.1 L825.3 924.4 L817.6 926.3 L809.9 927.2 L802.2 929 L794.4 930 L786.7 930.9 L779 931.8 L771.2 930.9 L763.5 930.3 L755.8 930 L748.1 928.1 L740.3 925.4 L732.6 925.4 L724.9 924.4 L717.2 927.2 L709.5 923 L701.7 925.9 L694 923 L686.3 925.4 L678.5 918.9 L670.8 916.1 L663.1 913.7 L655.4 910.6 L647.6 906 L639.9 905.1 L632.2 904.5 L624.5 902.3 L616.8 896.7 L609 889.4 L601.3 891.2 L593.6 889.4 L585.8 884.8 L578.1 889 L570.4 891.2 L562.7 889.4 L555 890.8 L547.2 889.4 L539.5 888.4 L530.3 906 L522.5 904.1 L514.8 908.7 L507.1 900.4 L499.4 910.6 L491.6 913.4 L483.9 912.4 L476.2 917.1 L468.5 916.1 L460.8 918.9 L453 917.1 L445.3 921.7 L437.6 916.1 L429.9 928.1 L422.1 924.4 L414.4 925.4 L406.7 927.2 L398.9 928.1 L391.2 930 L383.5 930 L375.8 929.6 L368.1 930 L360.3 930.9 L352.6 930 L344.9 929 L337.1 926.6 L329.4 927.2 L321.7 928.1 L314 927.2 L306.2 924.1 L298.5 926.3 L290.8 923 L283.1 925.4 L275.4 918.9 L267.6 917.1 L259.9 915.2 L252.2 910.6 L244.4 906 L236.7 905.1 L229 903.2 L221.3 900.4 L213.6 895.8 L205.8 891.2 L198.1 888.4 L190.4 889.4 L182.7 884.8 L174.9 888.4 L167.2 891.2 L159.5 890.3 L151.8 889 L144 887.5 L136.3 888.4 Z" fill="#c6c6c6" fill-opacity="0.5" stroke="none"/>
<path d="M136.3 856.1 L144 855.8 L151.8 862.6 L159.5 870 L167.2 873.7 L174.9 873.7 L182.7 875.5 L190.4 879.2 L198.1 882.4 L205.8 883.8 L213.6 888.4 L221.3 891.2 L229 895.8 L236.7 897.7 L244.4 898.6 L252.2 904.1 L259.9 907.8 L267.6 909.7 L275.4 913.4 L283.1 917.1 L290.8 918.9 L298.5 920.7 L306.2 918.5 L314 920.4 L321.7 921.7 L329.4 922 L337.1 921.1 L344.9 923 L352.6 924.8 L360.3 925.5 L368.1 925.4 L375.8 924.4 L383.5 925.4 L391.2 926.6 L398.9 924.4 L406.7 922.6 L414.4 921.1 L422.1 920.7 L429.9 920.4 L437.6 911.5 L445.3 915.2 L453 912.4 L460.8 910.6 L468.5 909.3 L476.2 907.8 L483.9 903.2 L491.6 901.9 L499.4 897.7 L507.1 893.1 L514.8 889.4 L522.5 883.8 L530.3 880.5 L539.5 857.1 L547.2 854.7 L555 865.4 L562.7 871.8 L570.4 874.6 L578.1 874.2 L585.8 876.4 L593.6 881.1 L601.3 882.9 L609 883.8 L616.8 888.4 L624.5 891.2 L632.2 895.3 L639.9 896.7 L647.6 899.5 L655.4 904.1 L663.1 906.9 L670.8 909.7 L678.5 913.4 L686.3 917.1 L694 919.3 L701.7 920.7 L709.5 918.9 L717.2 920.7 L724.9 921.7 L732.6 922.2 L740.3 921.1 L748.1 923 L755.8 924.8 L763.5 925.5 L771.2 924.8 L779 924.4 L786.7 925.4 L794.4 926.6 L802.2 924.8 L809.9 923 L817.6 921.7 L825.3 920.7 L833 920.4 L840.8 911.5 L848.5 915.2 L856.2 911.9 L864 910 L871.7 908.7 L879.4 907.5 L887.1 903.2 L894.8 901.9 L902.6 898.2 L910.3 893.4 L918 890.3 L925.8 884.8 L933.5 881.1" fill="none" stroke="#808080" stroke-width="1.4" stroke-linejoin="round"/>
<path d="M136.3 891.4 L144 887.8 L151.8 894.7 L159.5 896.5 L167.2 899.1 L174.9 895.5 L182.7 899.7 L190.4 898.4 L198.1 896.4 L205.8 894.9 L213.6 901.2 L221.3 898.8 L229 873.5 L236.7 817.4 L244.4 774.6 L252.2 789.5 L259.9 808.6 L267.6 836.9 L275.4 853.2 L283.1 868.2 L290.8 886.4 L298.5 898 L306.2 903.5 L314 909.2 L321.7 909.8 L329.4 906.5 L337.1 899.3 L344.9 885.7 L352.6 878.3 L360.3 872.7 L368.1 872.1 L375.8 875.2 L383.5 876.2 L391.2 882 L398.9 891.7 L406.7 896.2 L414.4 900.1 L422.1 900.4 L429.9 893.2 L437.6 897.6 L445.3 885.3 L453 892.8 L460.8 882 L468.5 875.2 L476.2 850.4 L483.9 842.1 L491.6 823.5 L499.4 814.6 L507.1 789 L514.8 761.6 L522.5 757.1 L530.3 749.5 L539.5 734.6 L547.2 732.9 L555 755.3 L562.7 783.3 L570.4 798.1 L578.1 828.3 L585.8 839.8 L593.6 856 L601.3 873.9 L609 884.8 L616.8 892.8 L624.5 890 L632.2 902.5 L639.9 890.6 L647.6 902.5 L655.4 895.9 L663.1 899.5 L670.8 904.5 L678.5 907.1 L686.3 905.3 L694 915.1 L701.7 913.3 L709.5 917.6 L717.2 915.8 L724.9 917.5 L732.6 913.1 L740.3 915.4 L748.1 915.9 L755.8 907.8 L763.5 897.1 L771.2 876.2 L779 855.7 L786.7 839.3 L794.4 826.4 L802.2 818.8 L809.9 817.7 L817.6 819.8 L825.3 825.4 L833 831 L840.8 845.9 L848.5 854.6 L856.2 856.1 L864 858.7 L871.7 857.4 L879.4 850.3 L887.1 853.5 L894.8 848.5 L902.6 836.1 L910.3 826.4 L918 828.8 L925.8 825.5 L933.5 815.5" fill="none" stroke="#000" stroke-width="2.7" stroke-dasharray="2.9 3.9" stroke-linejoin="round"/>
<path d="M136.3 861.6 L144 857.9 L151.8 864.7 L159.5 866.3 L167.2 868.8 L174.9 865.1 L182.7 869.2 L190.4 867.8 L198.1 865.7 L205.8 864 L213.6 870.2 L221.3 867.8 L229 842.6 L236.7 786.8 L244.4 744.1 L252.2 758.5 L259.9 777.1 L267.6 804.9 L275.4 820.8 L283.1 835.2 L290.8 852.9 L298.5 864 L306.2 869 L314 874.6 L321.7 875 L329.4 871.5 L337.1 864 L344.9 850.2 L352.6 842.6 L360.3 836.8 L368.1 836 L375.8 839.3 L383.5 840.6 L391.2 846.5 L398.9 856.4 L406.7 861.2 L414.4 865.3 L422.1 865.7 L429.9 858.9 L437.6 863.6 L445.3 851.7 L453 859.5 L460.8 848.8 L468.5 842 L476.2 817.3 L483.9 809 L491.6 790.5 L499.4 781.6 L507.1 756.1 L514.8 728.1 L522.5 722.9 L530.3 714.7 L539.5 699.2 L547.2 697.8 L555 720.4 L562.7 748.7 L570.4 763.7 L578.1 794.2 L585.8 805.9 L593.6 822.4 L601.3 840.6 L609 851.7 L616.8 859.9 L624.5 857.4 L632.2 870.2 L639.9 857 L647.6 867.8 L655.4 859.9 L663.1 863.6 L670.8 868.8 L678.5 871.5 L686.3 869.8 L694 879.7 L701.7 877.6 L709.5 881.8 L717.2 879.7 L724.9 881.1 L732.6 877 L740.3 879.7 L748.1 880.5 L755.8 872.3 L763.5 861.6 L771.2 840.6 L779 819.9 L786.7 803.5 L794.4 790.5 L802.2 782.9 L809.9 781.6 L817.6 784.3 L825.3 790.5 L833 796.7 L840.8 812.1 L848.5 821.4 L856.2 823.5 L864 826.5 L871.7 826.5 L879.4 820.8 L887.1 824.5 L894.8 819.9 L902.6 808 L910.3 798.7 L918 805.5 L925.8 802.8 L933.5 795" fill="none" stroke="#000" stroke-width="3.6" stroke-linejoin="round"/>
<path d="M164 1227.2 L213.1 1226.9 L218.1 1226.4 L221.9 1223.4 L225.6 1217.1 L229.4 1204.5 L233.2 1183.1 L237 1163 L240.7 1144.1 L243.8 1135.3 L247 1131.5 L250.8 1132.3 L254.6 1130.3 L257.1 1131.5 L259.6 1129.8 L262.1 1137.8 L267.2 1142.9 L271 1146.6 L274.7 1150.4 L278.5 1158 L281 1163 L284 1165.5 L287.3 1165 L291.1 1175.6 L294.9 1184.4 L298.1 1186.1 L301.2 1184.6 L306.2 1190.7 L310 1193.7 L313.7 1195.7 L317.5 1197.7 L321.3 1199.5 L326.3 1202 L331.4 1203.8 L335.1 1205.3 L338.9 1204.5 L341.4 1198.2 L343.9 1193.2 L346.5 1194.5 L349 1192.7 L352.8 1190.7 L356.5 1188.2 L360.3 1185.6 L362.8 1182.6 L365.3 1180.1 L367.9 1178.1 L370.4 1182.1 L375.4 1181.6 L379.2 1181.9 L383 1183.1 L386.7 1183.6 L390.5 1185.1 L394.3 1185.6 L398.1 1187.2 L401.8 1188.2 L405.6 1189.7 L408.1 1190.7 L409.9 1195.7 L413.2 1196.2 L415.7 1195.2 L417.4 1190.2 L419.5 1191.2 L420 1190.7 L423.8 1193.2 L427.6 1194.5 L432.6 1195.2 L438.9 1197 L445.2 1195.7 L451.5 1195.2 L456.5 1192.7 L460.3 1191.9 L465.3 1190.7 L470.3 1189.4 L474.1 1184.4 L477.9 1180.6 L480 1180 L485.4 1174.1 L490.7 1162 L495.8 1152.6 L500.1 1160.7 L504.2 1145.9 L506.8 1128.5 L510.9 1123.1 L514.9 1116.4 L519.6 1108.3 L523 1107.7 L525.6 1104.3 L528.3 1113.7 L531.7 1126.4 L535 1116.4 L538.4 1109 L542.4 1108.3 L545.8 1086.8 L547.8 1082.1 L549.8 1078.8 L551.1 1081.2 L552.5 1080.1 L554.5 1082.1 L556.8 1094.9 L559.2 1092.2 L562.6 1091.5 L564.8 1082.1 L567.2 1085.5 L568.6 1087.9 L569.9 1087.5 L572.6 1091.5 L576 1092.9 L579.3 1100.3 L582.7 1109.7 L586 1119.1 L588.7 1132.5 L592.1 1144.6 L596.1 1133.8 L599.5 1138.5 L602.8 1143.2 L606.2 1152.6 L609.5 1158 L612.9 1167.4 L618.3 1176.8 L622.3 1180 L623.9 1181.9 L626.4 1183.1 L630.2 1182.6 L633.9 1184.4 L637.7 1189.4 L641.5 1193.2 L642.8 1183.6 L646 1183.1 L649.5 1184.4 L651.6 1195.7 L657.9 1195.7 L664.1 1196.2 L669.2 1196.7 L673 1195.2 L677.2 1197.7 L681.8 1200.2 L685.5 1201.3 L689.3 1202 L695.6 1203.8 L698.1 1197.7 L700.6 1198.7 L703.2 1200.7 L706.9 1208.3 L709.5 1205.8 L710 1207 L712.5 1210.3 L715 1212.1 L718.8 1213.3 L722.6 1213.8 L727.6 1213.3 L731.4 1214.8 L735.2 1215.8 L738.2 1217.1 L741.5 1217.9 L745.2 1216.9 L750.3 1215.8 L755.3 1216.4 L760.3 1215.8 L764.1 1214.8 L767.9 1213.3 L771.7 1211.3 L775.4 1208.3 L779.2 1203.8 L783 1198.2 L784.8 1199.2 L786.8 1193.2 L790.5 1186.9 L794.3 1179.4 L798.1 1171.8 L802.6 1164.3 L806.9 1158 L808.7 1157.5 L810.7 1163 L812.7 1158 L815.7 1150.4 L818.2 1144.1 L822.8 1139.8 L827 1136.6 L829.1 1135.8 L830.8 1137.8 L833.3 1134.8 L835.8 1137.8 L838.4 1141.6 L840.9 1145.4 L843.4 1149.1 L845.9 1153.4 L848.4 1158 L850.4 1155.9 L852.2 1155.4 L854 1152.9 L856 1150.4 L859 1152.9 L862.3 1154.2 L864 1159.2 L866.1 1163 L868.6 1167 L871.1 1170.5 L873.6 1173.1 L876.1 1175.6 L878.6 1174.1 L881.2 1174.3 L883.7 1175.6 L886.2 1174.3 L888.7 1174.6 L891.2 1173.1 L894.2 1175.6 L897.5 1176.8 L898.8 1183.1 L900 1188 L902.2 1191.3 L905 1184.7 L906.7 1168 L908.4 1153.5 L910 1151.2 L912.2 1154.6 L913.9 1170.2 L916.7 1170.7 L919.5 1171.8 L921.2 1168.5 L923.9 1170.2 L927.3 1165.7 L929 1159 L929.8 1154 L931.2 1161.3 L932.9 1163.5 L934.5 1159.6 L936.2 1157.9 L937.3 1170.2 L939 1169.6 L941.2 1167.4 L944.5 1169.6 L946.2 1156.8 L948.4 1152.4 L951.2 1146.8 L953.5 1142.9 L955.7 1141.2 L957.3 1147.9 L959 1143.5 L961.2 1132.9 L963.5 1132.3 L965.7 1123.4 L967.9 1120.6 L970.2 1117.8 L971.8 1115.4 L973.5 1113.9 L975.7 1116.2 L978 1116.7 L980.2 1115.1 L982.4 1116.7 L984.6 1115.8 L985.2 1123.4 L987.4 1125.6 L990.2 1129.5 L993 1130.6 L995.2 1132.9 L996.3 1143.5 L998 1149 L998.9 1150.7 L998.9 1227.2 L164 1227.2 Z" fill="#5f0500" fill-opacity="0.3" stroke="none"/>
<path d="M164 1227.2 L213.1 1226.9 L218.1 1226.4 L221.9 1223.4 L225.6 1217.1 L229.4 1204.5 L233.2 1183.1 L237 1163 L240.7 1144.1 L243.8 1135.3 L247 1131.5 L250.8 1132.3 L254.6 1130.3 L257.1 1131.5 L259.6 1129.8 L262.1 1137.8 L267.2 1142.9 L271 1146.6 L274.7 1150.4 L278.5 1158 L281 1163 L284 1165.5 L287.3 1165 L291.1 1175.6 L294.9 1184.4 L298.1 1186.1 L301.2 1184.6 L306.2 1190.7 L310 1193.7 L313.7 1195.7 L317.5 1197.7 L321.3 1199.5 L326.3 1202 L331.4 1203.8 L335.1 1205.3 L338.9 1204.5 L341.4 1198.2 L343.9 1193.2 L346.5 1194.5 L349 1192.7 L352.8 1190.7 L356.5 1188.2 L360.3 1185.6 L362.8 1182.6 L365.3 1180.1 L367.9 1178.1 L370.4 1182.1 L375.4 1181.6 L379.2 1181.9 L383 1183.1 L386.7 1183.6 L390.5 1185.1 L394.3 1185.6 L398.1 1187.2 L401.8 1188.2 L405.6 1189.7 L408.1 1190.7 L409.9 1195.7 L413.2 1196.2 L415.7 1195.2 L417.4 1190.2 L419.5 1191.2 L420 1190.7 L423.8 1193.2 L427.6 1194.5 L432.6 1195.2 L438.9 1197 L445.2 1195.7 L451.5 1195.2 L456.5 1192.7 L460.3 1191.9 L465.3 1190.7 L470.3 1189.4 L474.1 1184.4 L477.9 1180.6 L480 1180 L485.4 1174.1 L490.7 1162 L495.8 1152.6 L500.1 1160.7 L504.2 1145.9 L506.8 1128.5 L510.9 1123.1 L514.9 1116.4 L519.6 1108.3 L523 1107.7 L525.6 1104.3 L528.3 1113.7 L531.7 1126.4 L535 1116.4 L538.4 1109 L542.4 1108.3 L545.8 1086.8 L547.8 1082.1 L549.8 1078.8 L551.1 1081.2 L552.5 1080.1 L554.5 1082.1 L556.8 1094.9 L559.2 1092.2 L562.6 1091.5 L564.8 1082.1 L567.2 1085.5 L568.6 1087.9 L569.9 1087.5 L572.6 1091.5 L576 1092.9 L579.3 1100.3 L582.7 1109.7 L586 1119.1 L588.7 1132.5 L592.1 1144.6 L596.1 1133.8 L599.5 1138.5 L602.8 1143.2 L606.2 1152.6 L609.5 1158 L612.9 1167.4 L618.3 1176.8 L622.3 1180 L623.9 1181.9 L626.4 1183.1 L630.2 1182.6 L633.9 1184.4 L637.7 1189.4 L641.5 1193.2 L642.8 1183.6 L646 1183.1 L649.5 1184.4 L651.6 1195.7 L657.9 1195.7 L664.1 1196.2 L669.2 1196.7 L673 1195.2 L677.2 1197.7 L681.8 1200.2 L685.5 1201.3 L689.3 1202 L695.6 1203.8 L698.1 1197.7 L700.6 1198.7 L703.2 1200.7 L706.9 1208.3 L709.5 1205.8 L710 1207 L712.5 1210.3 L715 1212.1 L718.8 1213.3 L722.6 1213.8 L727.6 1213.3 L731.4 1214.8 L735.2 1215.8 L738.2 1217.1 L741.5 1217.9 L745.2 1216.9 L750.3 1215.8 L755.3 1216.4 L760.3 1215.8 L764.1 1214.8 L767.9 1213.3 L771.7 1211.3 L775.4 1208.3 L779.2 1203.8 L783 1198.2 L784.8 1199.2 L786.8 1193.2 L790.5 1186.9 L794.3 1179.4 L798.1 1171.8 L802.6 1164.3 L806.9 1158 L808.7 1157.5 L810.7 1163 L812.7 1158 L815.7 1150.4 L818.2 1144.1 L822.8 1139.8 L827 1136.6 L829.1 1135.8 L830.8 1137.8 L833.3 1134.8 L835.8 1137.8 L838.4 1141.6 L840.9 1145.4 L843.4 1149.1 L845.9 1153.4 L848.4 1158 L850.4 1155.9 L852.2 1155.4 L854 1152.9 L856 1150.4 L859 1152.9 L862.3 1154.2 L864 1159.2 L866.1 1163 L868.6 1167 L871.1 1170.5 L873.6 1173.1 L876.1 1175.6 L878.6 1174.1 L881.2 1174.3 L883.7 1175.6 L886.2 1174.3 L888.7 1174.6 L891.2 1173.1 L894.2 1175.6 L897.5 1176.8 L898.8 1183.1 L900 1188 L902.2 1191.3 L905 1184.7 L906.7 1168 L908.4 1153.5 L910 1151.2 L912.2 1154.6 L913.9 1170.2 L916.7 1170.7 L919.5 1171.8 L921.2 1168.5 L923.9 1170.2 L927.3 1165.7 L929 1159 L929.8 1154 L931.2 1161.3 L932.9 1163.5 L934.5 1159.6 L936.2 1157.9 L937.3 1170.2 L939 1169.6 L941.2 1167.4 L944.5 1169.6 L946.2 1156.8 L948.4 1152.4 L951.2 1146.8 L953.5 1142.9 L955.7 1141.2 L957.3 1147.9 L959 1143.5 L961.2 1132.9 L963.5 1132.3 L965.7 1123.4 L967.9 1120.6 L970.2 1117.8 L971.8 1115.4 L973.5 1113.9 L975.7 1116.2 L978 1116.7 L980.2 1115.1 L982.4 1116.7 L984.6 1115.8 L985.2 1123.4 L987.4 1125.6 L990.2 1129.5 L993 1130.6 L995.2 1132.9 L996.3 1143.5 L998 1149 L998.9 1150.7" fill="none" stroke="#ff0000" stroke-width="2.5" stroke-linejoin="round"/>
<text transform="translate(134.6,1233) scale(1,1.1)" font-size="14.6" text-anchor="end" fill="#444">0</text>
<text transform="translate(134.6,1170.9) scale(1,1.1)" font-size="14.6" text-anchor="end" fill="#444">10k</text>
<text transform="translate(134.6,1108.7) scale(1,1.1)" font-size="14.6" text-anchor="end" fill="#444">20k</text>
<text transform="translate(134.6,1046.6) scale(1,1.1)" font-size="14.6" text-anchor="end" fill="#444">30k</text>
<text transform="translate(134.6,984.4) scale(1,1.1)" font-size="14.6" text-anchor="end" fill="#444">40k</text>
<text transform="translate(134.6,922.3) scale(1,1.1)" font-size="14.6" text-anchor="end" fill="#444">50k</text>
<text transform="translate(134.6,860.2) scale(1,1.1)" font-size="14.6" text-anchor="end" fill="#444">60k</text>
<text transform="translate(134.6,798) scale(1,1.1)" font-size="14.6" text-anchor="end" fill="#444">70k</text>
<text transform="translate(134.6,735.9) scale(1,1.1)" font-size="14.6" text-anchor="end" fill="#444">80k</text>
<text transform="translate(233.6,1246) scale(1,1.1)" font-size="15" text-anchor="middle" fill="#444">Apr 2020</text>
<text transform="translate(333.6,1246) scale(1,1.1)" font-size="15" text-anchor="middle" fill="#444">Jul 2020</text>
<text transform="translate(435.6,1246) scale(1,1.1)" font-size="15" text-anchor="middle" fill="#444">Oct 2020</text>
<text transform="translate(536.8,1246) scale(1,1.1)" font-size="15" text-anchor="middle" fill="#444">Jan 2021</text>
<text transform="translate(636.6,1246) scale(1,1.1)" font-size="15" text-anchor="middle" fill="#444">Apr 2021</text>
<text transform="translate(737.2,1246) scale(1,1.1)" font-size="15" text-anchor="middle" fill="#444">Jul 2021</text>
<text transform="translate(838.6,1246) scale(1,1.1)" font-size="15" text-anchor="middle" fill="#444">Oct 2021</text>
<text transform="translate(939.9,1246) scale(1,1.1)" font-size="15" text-anchor="middle" fill="#444">Jan 2022</text>
<text transform="translate(88.9,948) rotate(-90) scale(1.1,1)" text-anchor="middle" font-size="18" fill="#444">Deaths per week</text>
<text transform="translate(568.2,1301.5) scale(1,1.1)" font-size="17" text-anchor="middle" fill="#444">Date</text>
<text transform="translate(616,597.6) scale(1,1.05)" font-size="16.5" text-anchor="middle" fill="#444">COVID-19 mortality context for <tspan font-weight="bold" fill="#008000">All States</tspan>, pop. <tspan fill="#000080">332,875,137</tspan></text>
<text transform="translate(616.1,630) scale(1,1.05)" font-size="16.5" text-anchor="middle" fill="#444">latest CDC record: Mon Feb 14 2022</text>
<rect x="1017.8" y="671" width="162.6" height="550" fill="#fff" stroke="#7a7a7a" stroke-width="2"/>
<text transform="translate(1069.6,700) scale(1,1.1)" font-size="15.5" text-anchor="start" fill="#444">COVID-19</text>
<text transform="translate(1069.6,722.5) scale(1,1.1)" font-size="12.6" text-anchor="start" fill="#444">7 day totals</text>
<text transform="translate(1069.6,744.8) scale(1,1.1)" font-size="12.9" text-anchor="start" fill="#444">(Johns Hopkins)</text>
<rect x="1025.5" y="713" width="37.4" height="8.3" fill="#5f0500" fill-opacity="0.3"/>
<path d="M1025.5 713 H1062.9" stroke="#f00" stroke-width="2.8"/>
<path d="M1025.5 764.6 H1062.9" stroke="#000" stroke-width="3" stroke-dasharray="3.2 4"/>
<text transform="translate(1069.6,771) scale(1,1.1)" font-size="14.8" text-anchor="start" fill="#444">NaturalCause</text>
<path d="M1025.5 792 H1062.9" stroke="#000" stroke-width="4"/>
<text transform="translate(1069.6,798) scale(1,1.1)" font-size="15" text-anchor="start" fill="#444">All Cause <tspan font-size="11" dy="4.2">2020</tspan></text>
<path d="M1025.5 819.2 H1062.9" stroke="#808080" stroke-width="1.4"/>
<text transform="translate(1069.6,825.3) scale(1,1.1)" font-size="15" text-anchor="start" fill="#444">average<tspan font-size="11" dy="4.2">2015-9</tspan></text>
<rect x="1025.5" y="842.3" width="37.4" height="8.3" fill="#000" fill-opacity="0.1"/>
<text transform="translate(1069.6,852) scale(1,1.1)" font-size="15" text-anchor="start" fill="#444">range <tspan font-size="11" dy="4.2" dx="5">2015-9</tspan></text>
<path d="M1069.6 882.2 H1164.2" stroke="#555" stroke-width="1.2"/>
<rect x="1025.5" y="897.8" width="37.4" height="8.6" fill="#ff7f0e" fill-opacity="0.5"/>
<path d="M1025.5 897.8 H1062.9" stroke="#ff7f0e" stroke-width="2.4"/>
<text transform="translate(1069.6,906.6) scale(1,1.1)" font-size="14.8" text-anchor="start" fill="#444">of covid</text>
<rect x="1025.5" y="924.9" width="37.4" height="8.6" fill="#1f77b4" fill-opacity="0.5"/>
<path d="M1025.5 924.9 H1062.9" stroke="#1f77b4" stroke-width="2.4"/>
<text transform="translate(1069.6,933.7) scale(1,1.1)" font-size="14.8" text-anchor="start" fill="#444">Alzheimer</text>
<rect x="1025.5" y="952.1" width="37.4" height="8.6" fill="#17becf" fill-opacity="0.5"/>
<path d="M1025.5 952.1 H1062.9" stroke="#17becf" stroke-width="2.4"/>
<text transform="translate(1069.6,960.9) scale(1,1.1)" font-size="14.8" text-anchor="start" fill="#444">Cereb Vasc</text>
<rect x="1025.5" y="979.2" width="37.4" height="8.6" fill="#bcbd22" fill-opacity="0.5"/>
<path d="M1025.5 979.2 H1062.9" stroke="#bcbd22" stroke-width="2.4"/>
<text transform="translate(1069.6,988) scale(1,1.1)" font-size="14.8" text-anchor="start" fill="#444">Chron.resp</text>
<rect x="1025.5" y="1006.3" width="37.4" height="8.6" fill="#7f7f7f" fill-opacity="0.5"/>
<path d="M1025.5 1006.3 H1062.9" stroke="#7f7f7f" stroke-width="2.4"/>
<text transform="translate(1069.6,1015.1) scale(1,1.1)" font-size="14.8" text-anchor="start" fill="#444">Diabetes</text>
<rect x="1025.5" y="1033.5" width="37.4" height="8.6" fill="#e377c2" fill-opacity="0.5"/>
<path d="M1025.5 1033.5 H1062.9" stroke="#e377c2" stroke-width="2.4"/>
<text transform="translate(1069.6,1042.2) scale(1,1.1)" font-size="14.8" text-anchor="start" fill="#444">Heart diseas</text>
<rect x="1025.5" y="1060.6" width="37.4" height="8.6" fill="#8c564b" fill-opacity="0.5"/>
<path d="M1025.5 1060.6 H1062.9" stroke="#8c564b" stroke-width="2.4"/>
<text transform="translate(1069.6,1069.4) scale(1,1.1)" font-size="14.8" text-anchor="start" fill="#444">Influ&amp;Pneum</text>
<rect x="1025.5" y="1087.7" width="37.4" height="8.6" fill="#9467bd" fill-opacity="0.5"/>
<path d="M1025.5 1087.7 H1062.9" stroke="#9467bd" stroke-width="2.4"/>
<text transform="translate(1069.6,1096.5) scale(1,1.1)" font-size="14.8" text-anchor="start" fill="#444">Cancer</text>
<rect x="1025.5" y="1114.8" width="37.4" height="8.6" fill="#d62728" fill-opacity="0.5"/>
<path d="M1025.5 1114.8 H1062.9" stroke="#d62728" stroke-width="2.4"/>
<text transform="translate(1069.6,1123.6) scale(1,1.1)" font-size="14.8" text-anchor="start" fill="#444">Kidney</text>
<rect x="1025.5" y="1142" width="37.4" height="8.6" fill="#2ca02c" fill-opacity="0.5"/>
<path d="M1025.5 1142 H1062.9" stroke="#2ca02c" stroke-width="2.4"/>
<text transform="translate(1069.6,1150.8) scale(1,1.1)" font-size="14.8" text-anchor="start" fill="#444">Other resp</text>
<rect x="1025.5" y="1169.1" width="37.4" height="8.6" fill="#ff7f0e" fill-opacity="0.5"/>
<path d="M1025.5 1169.1 H1062.9" stroke="#ff7f0e" stroke-width="2.4"/>
<text transform="translate(1069.6,1177.9) scale(1,1.1)" font-size="14.8" text-anchor="start" fill="#444">Septicemia</text>
<rect x="1025.5" y="1196.2" width="37.4" height="8.6" fill="#1f77b4" fill-opacity="0.5"/>
<path d="M1025.5 1196.2 H1062.9" stroke="#1f77b4" stroke-width="2.4"/>
<text transform="translate(1069.6,1205) scale(1,1.1)" font-size="14.8" text-anchor="start" fill="#444">Unclassified</text>
</g>
</svg>
</body></html>
